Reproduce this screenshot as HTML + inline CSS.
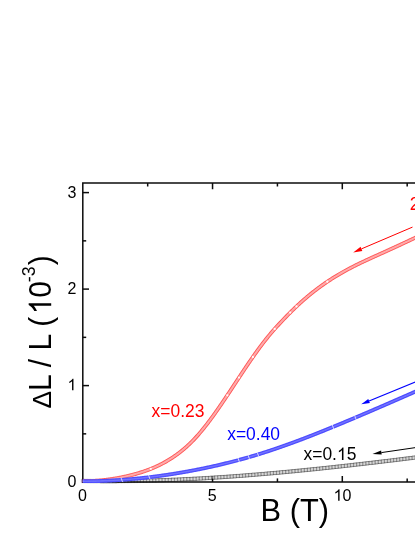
<!DOCTYPE html>
<html><head><meta charset="utf-8"><title>chart</title>
<style>html,body{margin:0;padding:0;background:#fff}body{width:415px;height:537px;overflow:hidden}svg{display:block}</style>
</head><body>
<svg width="415" height="537" viewBox="0 0 415 537" style="will-change:transform">
<rect width="415" height="537" fill="#fff"/>
<path d="M82.80 480.91L83.80 480.93L84.80 480.95L85.80 480.97L86.80 480.98L87.80 481.00L88.80 481.01L89.80 481.03L90.80 481.04L91.80 481.05L92.80 481.06L93.80 481.07L94.80 481.08L95.80 481.09L96.80 481.10L97.80 481.11L98.80 481.12L99.80 481.12L100.80 481.13L101.80 481.14L102.80 481.14L103.80 481.14L104.80 481.15L105.80 481.15L106.80 481.15L107.80 481.15L108.80 481.15L109.80 481.15L110.80 481.15L111.80 481.15L112.80 481.14L113.80 481.14L114.80 481.14L115.80 481.13L116.80 481.13L117.80 481.12L118.80 481.11L119.80 481.11L120.80 481.10L121.80 481.09L122.80 481.08L123.80 481.07L124.80 481.06L125.80 481.05L126.80 481.04L127.80 481.02L128.80 481.01L129.80 481.00L130.80 480.98L131.80 480.97L132.80 480.95L133.80 480.93L134.80 480.92L135.80 480.90L136.80 480.88L137.80 480.86L138.80 480.84L139.80 480.82L140.80 480.80L141.80 480.78L142.80 480.75L143.80 480.73L144.79 480.71L145.79 480.68L146.79 480.66L147.79 480.63L148.79 480.61L149.79 480.58L150.79 480.55L151.79 480.52L152.79 480.50L153.79 480.47L154.79 480.44L155.79 480.41L156.79 480.38L157.79 480.34L158.79 480.31L159.79 480.28L160.79 480.24L161.79 480.21L162.79 480.18L163.79 480.14L164.79 480.10L165.79 480.07L166.78 480.03L167.78 479.99L168.78 479.96L169.78 479.92L170.78 479.88L171.78 479.84L172.78 479.80L173.78 479.76L174.78 479.71L175.78 479.67L176.78 479.63L177.78 479.59L178.77 479.54L179.77 479.50L180.77 479.45L181.77 479.41L182.77 479.36L183.77 479.31L184.77 479.27L185.77 479.22L186.77 479.17L187.76 479.12L188.76 479.07L189.76 479.02L190.76 478.97L191.76 478.92L192.76 478.87L193.76 478.82L194.76 478.76L195.75 478.71L196.75 478.66L197.75 478.60L198.75 478.55L199.75 478.49L200.75 478.44L201.74 478.38L202.74 478.32L203.74 478.27L204.74 478.21L205.74 478.15L206.74 478.09L207.73 478.03L208.73 477.97L209.73 477.91L210.73 477.85L211.73 477.79L212.73 477.73L213.72 477.66L214.72 477.60L215.72 477.54L216.72 477.47L217.72 477.41L218.71 477.34L219.71 477.28L220.71 477.21L221.71 477.15L222.70 477.08L223.70 477.01L224.70 476.94L225.70 476.88L226.70 476.81L227.69 476.74L228.69 476.67L229.69 476.60L230.69 476.53L231.68 476.46L232.68 476.39L233.68 476.31L234.68 476.24L235.67 476.17L236.67 476.10L237.67 476.02L238.66 475.95L239.66 475.87L240.66 475.80L241.66 475.72L242.65 475.65L243.65 475.57L244.65 475.49L245.64 475.42L246.64 475.34L247.64 475.26L248.64 475.18L249.63 475.10L250.63 475.02L251.63 474.94L252.62 474.86L253.62 474.78L254.62 474.70L255.61 474.62L256.61 474.54L257.61 474.46L258.60 474.37L259.60 474.29L260.60 474.21L261.59 474.12L262.59 474.04L263.58 473.95L264.58 473.87L265.58 473.78L266.57 473.70L267.57 473.61L268.57 473.53L269.56 473.44L270.56 473.35L271.55 473.26L272.55 473.17L273.55 473.09L274.54 473.00L275.54 472.91L276.53 472.82L277.53 472.73L278.53 472.64L279.52 472.55L280.52 472.46L281.51 472.36L282.51 472.27L283.51 472.18L284.50 472.09L285.50 471.99L286.49 471.90L287.49 471.81L288.48 471.71L289.48 471.62L290.47 471.52L291.47 471.43L292.47 471.33L293.46 471.24L294.46 471.14L295.45 471.05L296.45 470.95L297.44 470.85L298.44 470.75L299.43 470.66L300.43 470.56L301.42 470.46L302.42 470.36L303.41 470.26L304.41 470.16L305.40 470.06L306.40 469.96L307.39 469.86L308.39 469.76L309.38 469.66L310.38 469.56L311.37 469.46L312.37 469.36L313.36 469.26L314.36 469.15L315.35 469.05L316.35 468.95L317.34 468.84L318.34 468.74L319.33 468.64L320.33 468.53L321.32 468.43L322.31 468.32L323.31 468.22L324.30 468.11L325.30 468.01L326.29 467.90L327.29 467.80L328.28 467.69L329.27 467.58L330.27 467.48L331.26 467.37L332.26 467.26L333.25 467.15L334.25 467.04L335.24 466.94L336.23 466.83L337.23 466.72L338.22 466.61L339.22 466.50L340.21 466.39L341.20 466.28L342.20 466.17L343.19 466.06L344.19 465.95L345.18 465.84L346.17 465.73L347.17 465.62L348.16 465.51L349.15 465.39L350.15 465.28L351.14 465.17L352.14 465.06L353.13 464.94L354.12 464.83L355.12 464.72L356.11 464.61L357.10 464.49L358.10 464.38L359.09 464.26L360.08 464.15L361.08 464.04L362.07 463.92L363.06 463.81L364.06 463.69L365.05 463.58L366.04 463.46L367.04 463.34L368.03 463.23L369.02 463.11L370.02 463.00L371.01 462.88L372.00 462.76L373.00 462.65L373.99 462.53L374.98 462.41L375.98 462.30L376.97 462.18L377.96 462.06L378.96 461.94L379.95 461.82L380.94 461.71L381.93 461.59L382.93 461.47L383.92 461.35L384.91 461.23L385.91 461.11L386.90 460.99L387.89 460.87L388.88 460.75L389.88 460.63L390.87 460.51L391.86 460.39L392.86 460.27L393.85 460.15L394.84 460.03L395.83 459.91L396.83 459.79L397.82 459.67L398.81 459.55L399.80 459.43L400.80 459.31L401.79 459.19L402.78 459.06L403.77 458.94L404.77 458.82L405.76 458.70L406.75 458.58L407.74 458.45L408.74 458.33L409.73 458.21L410.72 458.09L411.71 457.96L412.71 457.84L413.70 457.72L414.69 457.59L415.68 457.47L416.68 457.35L417.67 457.22L418.66 457.10L419.65 456.98L420.65 456.85L421.64 456.73" fill="none" stroke="#979797" stroke-width="4.0" stroke-linejoin="round"/>
<path d="M82.80 480.91L83.80 480.93L84.80 480.95L85.80 480.97L86.80 480.98L87.80 481.00L88.80 481.01L89.80 481.03L90.80 481.04L91.80 481.05L92.80 481.06L93.80 481.07L94.80 481.08L95.80 481.09L96.80 481.10L97.80 481.11L98.80 481.12L99.80 481.12L100.80 481.13L101.80 481.14L102.80 481.14L103.80 481.14L104.80 481.15L105.80 481.15L106.80 481.15L107.80 481.15L108.80 481.15L109.80 481.15L110.80 481.15L111.80 481.15L112.80 481.14L113.80 481.14L114.80 481.14L115.80 481.13L116.80 481.13L117.80 481.12L118.80 481.11L119.80 481.11L120.80 481.10L121.80 481.09L122.80 481.08L123.80 481.07L124.80 481.06L125.80 481.05L126.80 481.04L127.80 481.02L128.80 481.01L129.80 481.00L130.80 480.98L131.80 480.97L132.80 480.95L133.80 480.93L134.80 480.92L135.80 480.90L136.80 480.88L137.80 480.86L138.80 480.84L139.80 480.82L140.80 480.80L141.80 480.78L142.80 480.75L143.80 480.73L144.79 480.71L145.79 480.68L146.79 480.66L147.79 480.63L148.79 480.61L149.79 480.58L150.79 480.55L151.79 480.52L152.79 480.50L153.79 480.47L154.79 480.44L155.79 480.41L156.79 480.38L157.79 480.34L158.79 480.31L159.79 480.28L160.79 480.24L161.79 480.21L162.79 480.18L163.79 480.14L164.79 480.10L165.79 480.07L166.78 480.03L167.78 479.99L168.78 479.96L169.78 479.92L170.78 479.88L171.78 479.84L172.78 479.80L173.78 479.76L174.78 479.71L175.78 479.67L176.78 479.63L177.78 479.59L178.77 479.54L179.77 479.50L180.77 479.45L181.77 479.41L182.77 479.36L183.77 479.31L184.77 479.27L185.77 479.22L186.77 479.17L187.76 479.12L188.76 479.07L189.76 479.02L190.76 478.97L191.76 478.92L192.76 478.87L193.76 478.82L194.76 478.76L195.75 478.71L196.75 478.66L197.75 478.60L198.75 478.55L199.75 478.49L200.75 478.44L201.74 478.38L202.74 478.32L203.74 478.27L204.74 478.21L205.74 478.15L206.74 478.09L207.73 478.03L208.73 477.97L209.73 477.91L210.73 477.85L211.73 477.79L212.73 477.73L213.72 477.66L214.72 477.60L215.72 477.54L216.72 477.47L217.72 477.41L218.71 477.34L219.71 477.28L220.71 477.21L221.71 477.15L222.70 477.08L223.70 477.01L224.70 476.94L225.70 476.88L226.70 476.81L227.69 476.74L228.69 476.67L229.69 476.60L230.69 476.53L231.68 476.46L232.68 476.39L233.68 476.31L234.68 476.24L235.67 476.17L236.67 476.10L237.67 476.02L238.66 475.95L239.66 475.87L240.66 475.80L241.66 475.72L242.65 475.65L243.65 475.57L244.65 475.49L245.64 475.42L246.64 475.34L247.64 475.26L248.64 475.18L249.63 475.10L250.63 475.02L251.63 474.94L252.62 474.86L253.62 474.78L254.62 474.70L255.61 474.62L256.61 474.54L257.61 474.46L258.60 474.37L259.60 474.29L260.60 474.21L261.59 474.12L262.59 474.04L263.58 473.95L264.58 473.87L265.58 473.78L266.57 473.70L267.57 473.61L268.57 473.53L269.56 473.44L270.56 473.35L271.55 473.26L272.55 473.17L273.55 473.09L274.54 473.00L275.54 472.91L276.53 472.82L277.53 472.73L278.53 472.64L279.52 472.55L280.52 472.46L281.51 472.36L282.51 472.27L283.51 472.18L284.50 472.09L285.50 471.99L286.49 471.90L287.49 471.81L288.48 471.71L289.48 471.62L290.47 471.52L291.47 471.43L292.47 471.33L293.46 471.24L294.46 471.14L295.45 471.05L296.45 470.95L297.44 470.85L298.44 470.75L299.43 470.66L300.43 470.56L301.42 470.46L302.42 470.36L303.41 470.26L304.41 470.16L305.40 470.06L306.40 469.96L307.39 469.86L308.39 469.76L309.38 469.66L310.38 469.56L311.37 469.46L312.37 469.36L313.36 469.26L314.36 469.15L315.35 469.05L316.35 468.95L317.34 468.84L318.34 468.74L319.33 468.64L320.33 468.53L321.32 468.43L322.31 468.32L323.31 468.22L324.30 468.11L325.30 468.01L326.29 467.90L327.29 467.80L328.28 467.69L329.27 467.58L330.27 467.48L331.26 467.37L332.26 467.26L333.25 467.15L334.25 467.04L335.24 466.94L336.23 466.83L337.23 466.72L338.22 466.61L339.22 466.50L340.21 466.39L341.20 466.28L342.20 466.17L343.19 466.06L344.19 465.95L345.18 465.84L346.17 465.73L347.17 465.62L348.16 465.51L349.15 465.39L350.15 465.28L351.14 465.17L352.14 465.06L353.13 464.94L354.12 464.83L355.12 464.72L356.11 464.61L357.10 464.49L358.10 464.38L359.09 464.26L360.08 464.15L361.08 464.04L362.07 463.92L363.06 463.81L364.06 463.69L365.05 463.58L366.04 463.46L367.04 463.34L368.03 463.23L369.02 463.11L370.02 463.00L371.01 462.88L372.00 462.76L373.00 462.65L373.99 462.53L374.98 462.41L375.98 462.30L376.97 462.18L377.96 462.06L378.96 461.94L379.95 461.82L380.94 461.71L381.93 461.59L382.93 461.47L383.92 461.35L384.91 461.23L385.91 461.11L386.90 460.99L387.89 460.87L388.88 460.75L389.88 460.63L390.87 460.51L391.86 460.39L392.86 460.27L393.85 460.15L394.84 460.03L395.83 459.91L396.83 459.79L397.82 459.67L398.81 459.55L399.80 459.43L400.80 459.31L401.79 459.19L402.78 459.06L403.77 458.94L404.77 458.82L405.76 458.70L406.75 458.58L407.74 458.45L408.74 458.33L409.73 458.21L410.72 458.09L411.71 457.96L412.71 457.84L413.70 457.72L414.69 457.59L415.68 457.47L416.68 457.35L417.67 457.22L418.66 457.10L419.65 456.98L420.65 456.85L421.64 456.73" fill="none" stroke="#d6d6d6" stroke-width="2.5" stroke-linejoin="round"/>
<path d="M81.30 479.22h3.4v3.4h-3.4zM90.60 479.36h3.4v3.4h-3.4zM99.90 479.43h3.4v3.4h-3.4zM109.20 479.45h3.4v3.4h-3.4zM118.50 479.40h3.4v3.4h-3.4zM127.80 479.30h3.4v3.4h-3.4zM137.10 479.14h3.4v3.4h-3.4zM146.39 478.93h3.4v3.4h-3.4zM155.69 478.66h3.4v3.4h-3.4zM164.98 478.33h3.4v3.4h-3.4zM174.28 477.96h3.4v3.4h-3.4zM183.57 477.54h3.4v3.4h-3.4zM192.86 477.07h3.4v3.4h-3.4zM202.14 476.56h3.4v3.4h-3.4zM211.42 476.00h3.4v3.4h-3.4zM220.71 475.40h3.4v3.4h-3.4zM229.98 474.76h3.4v3.4h-3.4zM239.26 474.08h3.4v3.4h-3.4zM248.53 473.36h3.4v3.4h-3.4zM257.80 472.60h3.4v3.4h-3.4zM267.07 471.81h3.4v3.4h-3.4zM276.33 470.98h3.4v3.4h-3.4zM285.59 470.13h3.4v3.4h-3.4zM294.85 469.24h3.4v3.4h-3.4zM304.10 468.32h3.4v3.4h-3.4zM313.35 467.38h3.4v3.4h-3.4zM322.60 466.41h3.4v3.4h-3.4zM331.85 465.42h3.4v3.4h-3.4zM341.09 464.40h3.4v3.4h-3.4zM350.34 463.37h3.4v3.4h-3.4zM359.58 462.31h3.4v3.4h-3.4zM368.81 461.24h3.4v3.4h-3.4zM378.05 460.15h3.4v3.4h-3.4zM387.28 459.04h3.4v3.4h-3.4zM396.52 457.92h3.4v3.4h-3.4zM405.75 456.79h3.4v3.4h-3.4zM414.98 455.65h3.4v3.4h-3.4z" fill="none" stroke="#000" stroke-width="0.5" stroke-opacity="0.42"/>
<path d="M84.40 479.27h3.4v3.4h-3.4zM93.70 479.39h3.4v3.4h-3.4zM103.00 479.45h3.4v3.4h-3.4zM112.30 479.44h3.4v3.4h-3.4zM121.60 479.38h3.4v3.4h-3.4zM130.90 479.25h3.4v3.4h-3.4zM140.20 479.07h3.4v3.4h-3.4zM149.49 478.84h3.4v3.4h-3.4zM158.79 478.55h3.4v3.4h-3.4zM168.08 478.22h3.4v3.4h-3.4zM177.37 477.83h3.4v3.4h-3.4zM186.66 477.39h3.4v3.4h-3.4zM195.95 476.91h3.4v3.4h-3.4zM205.24 476.38h3.4v3.4h-3.4zM214.52 475.81h3.4v3.4h-3.4zM223.80 475.19h3.4v3.4h-3.4zM233.07 474.53h3.4v3.4h-3.4zM242.35 473.84h3.4v3.4h-3.4zM251.62 473.11h3.4v3.4h-3.4zM260.89 472.34h3.4v3.4h-3.4zM270.15 471.54h3.4v3.4h-3.4zM279.42 470.70h3.4v3.4h-3.4zM288.68 469.83h3.4v3.4h-3.4zM297.93 468.94h3.4v3.4h-3.4zM307.19 468.01h3.4v3.4h-3.4zM316.44 467.06h3.4v3.4h-3.4zM325.69 466.08h3.4v3.4h-3.4zM334.93 465.08h3.4v3.4h-3.4zM344.18 464.06h3.4v3.4h-3.4zM353.42 463.02h3.4v3.4h-3.4zM362.66 461.96h3.4v3.4h-3.4zM371.89 460.88h3.4v3.4h-3.4zM381.13 459.78h3.4v3.4h-3.4zM390.36 458.67h3.4v3.4h-3.4zM399.59 457.55h3.4v3.4h-3.4zM408.82 456.41h3.4v3.4h-3.4zM418.05 455.27h3.4v3.4h-3.4z" fill="none" stroke="#000" stroke-width="0.5" stroke-opacity="0.42"/>
<path d="M87.50 479.32h3.4v3.4h-3.4zM96.80 479.42h3.4v3.4h-3.4zM106.10 479.45h3.4v3.4h-3.4zM115.40 479.43h3.4v3.4h-3.4zM124.70 479.34h3.4v3.4h-3.4zM134.00 479.20h3.4v3.4h-3.4zM143.29 479.00h3.4v3.4h-3.4zM152.59 478.75h3.4v3.4h-3.4zM161.89 478.45h3.4v3.4h-3.4zM171.18 478.09h3.4v3.4h-3.4zM180.47 477.69h3.4v3.4h-3.4zM189.76 477.24h3.4v3.4h-3.4zM199.05 476.74h3.4v3.4h-3.4zM208.33 476.19h3.4v3.4h-3.4zM217.61 475.61h3.4v3.4h-3.4zM226.89 474.98h3.4v3.4h-3.4zM236.17 474.31h3.4v3.4h-3.4zM245.44 473.60h3.4v3.4h-3.4zM254.71 472.86h3.4v3.4h-3.4zM263.98 472.08h3.4v3.4h-3.4zM273.24 471.26h3.4v3.4h-3.4zM282.50 470.42h3.4v3.4h-3.4zM291.76 469.54h3.4v3.4h-3.4zM301.02 468.63h3.4v3.4h-3.4zM310.27 467.70h3.4v3.4h-3.4zM319.52 466.74h3.4v3.4h-3.4zM328.77 465.75h3.4v3.4h-3.4zM338.01 464.75h3.4v3.4h-3.4zM347.26 463.72h3.4v3.4h-3.4zM356.50 462.67h3.4v3.4h-3.4zM365.74 461.60h3.4v3.4h-3.4zM374.97 460.51h3.4v3.4h-3.4zM384.21 459.41h3.4v3.4h-3.4zM393.44 458.30h3.4v3.4h-3.4zM402.67 457.17h3.4v3.4h-3.4zM411.90 456.03h3.4v3.4h-3.4z" fill="none" stroke="#000" stroke-width="0.5" stroke-opacity="0.42"/>
<g stroke="#0c0c0c" stroke-width="1.5" fill="none" stroke-linecap="butt">
<path d="M82.8 482.8V183.1M82.05 183.1H415"/>
<path d="M82.05 482H415" stroke-width="1.6"/>
<path d="M82.8 482.10h6.2"/>
<path d="M82.8 385.60h6.2"/>
<path d="M82.8 289.10h6.2"/>
<path d="M82.8 192.60h6.2"/>
<path d="M82.8 433.85h3.4"/>
<path d="M82.8 337.35h3.4"/>
<path d="M82.8 240.85h3.4"/>
<path d="M212.55 482v-3.4M212.55 183.1v6.2"/>
<path d="M212.55 478.6v-2.6" stroke-opacity="0.45"/>
<path d="M342.30 482v-6M342.30 183.1v6.2"/>
<path d="M147.68 183.1v3.4"/>
<path d="M277.43 183.1v3.4"/>
<path d="M407.18 183.1v3.4"/>
<path d="M277.43 482v-3.6"/>
<path d="M407.18 482v-3.6"/>
</g>
<path d="M82.80 480.97L83.80 480.99L84.80 481.00L85.80 481.01L86.80 481.01L87.80 481.00L88.80 480.99L89.80 480.97L90.80 480.95L91.80 480.92L92.80 480.88L93.80 480.84L94.80 480.79L95.79 480.73L96.79 480.67L97.79 480.60L98.79 480.53L99.78 480.45L100.78 480.36L101.78 480.27L102.77 480.18L103.77 480.07L104.76 479.97L105.75 479.85L106.75 479.73L107.74 479.61L108.73 479.48L109.72 479.34L110.71 479.20L111.70 479.06L112.69 478.91L113.68 478.75L114.66 478.59L115.65 478.42L116.64 478.25L117.62 478.07L118.60 477.89L119.59 477.70L120.57 477.51L121.55 477.32L122.53 477.12L123.51 476.91L124.48 476.70L125.46 476.49L126.44 476.27L127.41 476.04L128.38 475.81L129.36 475.58L130.33 475.35L131.30 475.10L132.27 474.86L133.24 474.60L134.20 474.35L135.17 474.08L136.13 473.82L137.09 473.54L138.05 473.26L139.01 472.98L139.97 472.69L140.92 472.39L141.87 472.08L142.82 471.77L143.77 471.46L144.72 471.13L145.66 470.80L146.60 470.47L147.54 470.12L148.48 469.77L149.41 469.42L150.35 469.05L151.27 468.68L152.20 468.30L153.12 467.91L154.04 467.52L154.96 467.12L155.87 466.71L156.78 466.30L157.69 465.87L158.59 465.44L159.49 465.01L160.38 464.56L161.27 464.11L162.16 463.65L163.05 463.18L163.93 462.71L164.80 462.22L165.68 461.73L166.54 461.24L167.41 460.73L168.27 460.22L169.12 459.70L169.97 459.18L170.82 458.65L171.66 458.11L172.50 457.56L173.33 457.00L174.16 456.44L174.98 455.88L175.80 455.30L176.61 454.72L177.42 454.13L178.22 453.54L179.02 452.93L179.82 452.32L180.60 451.71L181.39 451.09L182.16 450.46L182.94 449.82L183.70 449.18L184.46 448.53L185.22 447.88L185.97 447.22L186.72 446.55L187.46 445.88L188.19 445.20L188.92 444.52L189.65 443.83L190.36 443.13L191.08 442.43L191.79 441.72L192.49 441.01L193.19 440.30L193.88 439.58L194.57 438.85L195.25 438.12L195.93 437.38L196.60 436.64L197.27 435.90L197.93 435.15L198.59 434.40L199.24 433.64L199.89 432.88L200.54 432.12L201.18 431.35L201.82 430.58L202.46 429.81L203.09 429.04L203.72 428.26L204.34 427.48L204.96 426.69L205.58 425.91L206.20 425.12L206.81 424.33L207.42 423.54L208.03 422.74L208.64 421.95L209.24 421.15L209.84 420.35L210.43 419.55L211.03 418.74L211.62 417.94L212.21 417.13L212.80 416.32L213.39 415.51L213.97 414.70L214.56 413.89L215.14 413.08L215.72 412.26L216.29 411.44L216.87 410.63L217.44 409.81L218.01 408.99L218.58 408.17L219.15 407.34L219.72 406.52L220.29 405.70L220.85 404.87L221.42 404.05L221.98 403.22L222.54 402.39L223.10 401.56L223.66 400.74L224.22 399.91L224.78 399.08L225.34 398.25L225.90 397.42L226.45 396.58L227.01 395.75L227.56 394.92L228.11 394.09L228.67 393.26L229.22 392.42L229.77 391.59L230.32 390.75L230.88 389.92L231.43 389.09L231.98 388.25L232.53 387.42L233.08 386.58L233.63 385.75L234.18 384.91L234.73 384.07L235.28 383.24L235.83 382.40L236.38 381.57L236.93 380.73L237.48 379.90L238.03 379.06L238.58 378.23L239.13 377.39L239.68 376.56L240.23 375.73L240.78 374.89L241.33 374.06L241.89 373.22L242.44 372.39L242.99 371.56L243.55 370.73L244.10 369.89L244.66 369.06L245.22 368.23L245.77 367.40L246.33 366.57L246.89 365.74L247.45 364.91L248.01 364.09L248.57 363.26L249.14 362.43L249.70 361.61L250.26 360.78L250.83 359.96L251.40 359.13L251.97 358.31L252.54 357.49L253.11 356.67L253.69 355.85L254.26 355.03L254.84 354.22L255.42 353.40L256.00 352.59L256.58 351.78L257.16 350.96L257.75 350.15L258.34 349.35L258.93 348.54L259.52 347.73L260.12 346.93L260.72 346.13L261.31 345.33L261.92 344.53L262.52 343.73L263.13 342.94L263.74 342.15L264.35 341.36L264.97 340.57L265.59 339.78L266.21 339.00L266.83 338.22L267.46 337.44L268.09 336.66L268.72 335.89L269.36 335.12L270.00 334.35L270.65 333.59L271.30 332.83L271.95 332.07L272.60 331.31L273.26 330.56L273.92 329.81L274.58 329.06L275.25 328.31L275.92 327.57L276.59 326.83L277.26 326.09L277.94 325.35L278.61 324.61L279.29 323.88L279.98 323.15L280.66 322.42L281.34 321.69L282.03 320.96L282.72 320.24L283.41 319.51L284.10 318.79L284.79 318.07L285.49 317.35L286.18 316.63L286.88 315.91L287.58 315.20L288.28 314.49L288.98 313.78L289.69 313.07L290.40 312.36L291.11 311.66L291.82 310.95L292.53 310.25L293.25 309.55L293.96 308.86L294.68 308.16L295.41 307.47L296.13 306.78L296.86 306.10L297.59 305.41L298.32 304.73L299.05 304.05L299.79 303.38L300.53 302.70L301.27 302.03L302.02 301.37L302.76 300.70L303.51 300.04L304.27 299.38L305.02 298.73L305.78 298.07L306.54 297.43L307.31 296.78L308.07 296.14L308.84 295.50L309.61 294.86L310.39 294.23L311.17 293.60L311.95 292.98L312.73 292.35L313.51 291.74L314.30 291.12L315.09 290.51L315.89 289.90L316.68 289.29L317.48 288.69L318.28 288.09L319.09 287.50L319.89 286.91L320.70 286.32L321.51 285.74L322.33 285.15L323.14 284.58L323.96 284.00L324.78 283.43L325.61 282.87L326.43 282.30L327.26 281.74L328.09 281.19L328.93 280.64L329.76 280.09L330.60 279.54L331.44 279.00L332.29 278.46L333.13 277.93L333.98 277.40L334.83 276.87L335.68 276.35L336.54 275.83L337.39 275.31L338.25 274.80L339.11 274.29L339.98 273.79L340.84 273.29L341.71 272.79L342.58 272.29L343.45 271.80L344.32 271.31L345.20 270.83L346.07 270.35L346.95 269.87L347.83 269.40L348.72 268.93L349.60 268.46L350.49 268.00L351.37 267.54L352.26 267.08L353.15 266.62L354.04 266.17L354.94 265.72L355.83 265.27L356.73 264.83L357.62 264.39L358.52 263.95L359.42 263.51L360.32 263.07L361.22 262.64L362.13 262.21L363.03 261.78L363.93 261.36L364.84 260.93L365.74 260.51L366.65 260.09L367.56 259.66L368.47 259.25L369.38 258.83L370.29 258.41L371.19 258.00L372.10 257.58L373.02 257.17L373.93 256.76L374.84 256.35L375.75 255.93L376.66 255.52L377.57 255.11L378.49 254.70L379.40 254.29L380.31 253.88L381.22 253.47L382.13 253.06L383.05 252.65L383.96 252.24L384.87 251.83L385.78 251.42L386.69 251.01L387.60 250.59L388.51 250.18L389.42 249.77L390.33 249.35L391.24 248.94L392.15 248.52L393.06 248.10L393.97 247.68L394.88 247.27L395.79 246.85L396.69 246.43L397.60 246.01L398.51 245.59L399.42 245.17L400.32 244.75L401.23 244.33L402.14 243.90L403.04 243.48L403.95 243.06L404.85 242.63L405.76 242.21L406.67 241.79L407.57 241.36L408.48 240.94L409.38 240.51L410.29 240.09L411.19 239.66L412.10 239.24L413.00 238.81L413.91 238.38L414.81 237.96L415.71 237.53L416.62 237.10L417.52 236.67L418.43 236.25L419.33 235.82L420.23 235.39L421.14 234.96" fill="none" stroke="#ff7272" stroke-width="3.8" stroke-linejoin="round"/>
<path d="M82.80 480.97L83.80 480.99L84.80 481.00L85.80 481.01L86.80 481.01L87.80 481.00L88.80 480.99L89.80 480.97L90.80 480.95L91.80 480.92L92.80 480.88L93.80 480.84L94.80 480.79L95.79 480.73L96.79 480.67L97.79 480.60L98.79 480.53L99.78 480.45L100.78 480.36L101.78 480.27L102.77 480.18L103.77 480.07L104.76 479.97L105.75 479.85L106.75 479.73L107.74 479.61L108.73 479.48L109.72 479.34L110.71 479.20L111.70 479.06L112.69 478.91L113.68 478.75L114.66 478.59L115.65 478.42L116.64 478.25L117.62 478.07L118.60 477.89L119.59 477.70L120.57 477.51L121.55 477.32L122.53 477.12L123.51 476.91L124.48 476.70L125.46 476.49L126.44 476.27L127.41 476.04L128.38 475.81L129.36 475.58L130.33 475.35L131.30 475.10L132.27 474.86L133.24 474.60L134.20 474.35L135.17 474.08L136.13 473.82L137.09 473.54L138.05 473.26L139.01 472.98L139.97 472.69L140.92 472.39L141.87 472.08L142.82 471.77L143.77 471.46L144.72 471.13L145.66 470.80L146.60 470.47L147.54 470.12L148.48 469.77L149.41 469.42L150.35 469.05L151.27 468.68L152.20 468.30L153.12 467.91L154.04 467.52L154.96 467.12L155.87 466.71L156.78 466.30L157.69 465.87L158.59 465.44L159.49 465.01L160.38 464.56L161.27 464.11L162.16 463.65L163.05 463.18L163.93 462.71L164.80 462.22L165.68 461.73L166.54 461.24L167.41 460.73L168.27 460.22L169.12 459.70L169.97 459.18L170.82 458.65L171.66 458.11L172.50 457.56L173.33 457.00L174.16 456.44L174.98 455.88L175.80 455.30L176.61 454.72L177.42 454.13L178.22 453.54L179.02 452.93L179.82 452.32L180.60 451.71L181.39 451.09L182.16 450.46L182.94 449.82L183.70 449.18L184.46 448.53L185.22 447.88L185.97 447.22L186.72 446.55L187.46 445.88L188.19 445.20L188.92 444.52L189.65 443.83L190.36 443.13L191.08 442.43L191.79 441.72L192.49 441.01L193.19 440.30L193.88 439.58L194.57 438.85L195.25 438.12L195.93 437.38L196.60 436.64L197.27 435.90L197.93 435.15L198.59 434.40L199.24 433.64L199.89 432.88L200.54 432.12L201.18 431.35L201.82 430.58L202.46 429.81L203.09 429.04L203.72 428.26L204.34 427.48L204.96 426.69L205.58 425.91L206.20 425.12L206.81 424.33L207.42 423.54L208.03 422.74L208.64 421.95L209.24 421.15L209.84 420.35L210.43 419.55L211.03 418.74L211.62 417.94L212.21 417.13L212.80 416.32L213.39 415.51L213.97 414.70L214.56 413.89L215.14 413.08L215.72 412.26L216.29 411.44L216.87 410.63L217.44 409.81L218.01 408.99L218.58 408.17L219.15 407.34L219.72 406.52L220.29 405.70L220.85 404.87L221.42 404.05L221.98 403.22L222.54 402.39L223.10 401.56L223.66 400.74L224.22 399.91L224.78 399.08L225.34 398.25L225.90 397.42L226.45 396.58L227.01 395.75L227.56 394.92L228.11 394.09L228.67 393.26L229.22 392.42L229.77 391.59L230.32 390.75L230.88 389.92L231.43 389.09L231.98 388.25L232.53 387.42L233.08 386.58L233.63 385.75L234.18 384.91L234.73 384.07L235.28 383.24L235.83 382.40L236.38 381.57L236.93 380.73L237.48 379.90L238.03 379.06L238.58 378.23L239.13 377.39L239.68 376.56L240.23 375.73L240.78 374.89L241.33 374.06L241.89 373.22L242.44 372.39L242.99 371.56L243.55 370.73L244.10 369.89L244.66 369.06L245.22 368.23L245.77 367.40L246.33 366.57L246.89 365.74L247.45 364.91L248.01 364.09L248.57 363.26L249.14 362.43L249.70 361.61L250.26 360.78L250.83 359.96L251.40 359.13L251.97 358.31L252.54 357.49L253.11 356.67L253.69 355.85L254.26 355.03L254.84 354.22L255.42 353.40L256.00 352.59L256.58 351.78L257.16 350.96L257.75 350.15L258.34 349.35L258.93 348.54L259.52 347.73L260.12 346.93L260.72 346.13L261.31 345.33L261.92 344.53L262.52 343.73L263.13 342.94L263.74 342.15L264.35 341.36L264.97 340.57L265.59 339.78L266.21 339.00L266.83 338.22L267.46 337.44L268.09 336.66L268.72 335.89L269.36 335.12L270.00 334.35L270.65 333.59L271.30 332.83L271.95 332.07L272.60 331.31L273.26 330.56L273.92 329.81L274.58 329.06L275.25 328.31L275.92 327.57L276.59 326.83L277.26 326.09L277.94 325.35L278.61 324.61L279.29 323.88L279.98 323.15L280.66 322.42L281.34 321.69L282.03 320.96L282.72 320.24L283.41 319.51L284.10 318.79L284.79 318.07L285.49 317.35L286.18 316.63L286.88 315.91L287.58 315.20L288.28 314.49L288.98 313.78L289.69 313.07L290.40 312.36L291.11 311.66L291.82 310.95L292.53 310.25L293.25 309.55L293.96 308.86L294.68 308.16L295.41 307.47L296.13 306.78L296.86 306.10L297.59 305.41L298.32 304.73L299.05 304.05L299.79 303.38L300.53 302.70L301.27 302.03L302.02 301.37L302.76 300.70L303.51 300.04L304.27 299.38L305.02 298.73L305.78 298.07L306.54 297.43L307.31 296.78L308.07 296.14L308.84 295.50L309.61 294.86L310.39 294.23L311.17 293.60L311.95 292.98L312.73 292.35L313.51 291.74L314.30 291.12L315.09 290.51L315.89 289.90L316.68 289.29L317.48 288.69L318.28 288.09L319.09 287.50L319.89 286.91L320.70 286.32L321.51 285.74L322.33 285.15L323.14 284.58L323.96 284.00L324.78 283.43L325.61 282.87L326.43 282.30L327.26 281.74L328.09 281.19L328.93 280.64L329.76 280.09L330.60 279.54L331.44 279.00L332.29 278.46L333.13 277.93L333.98 277.40L334.83 276.87L335.68 276.35L336.54 275.83L337.39 275.31L338.25 274.80L339.11 274.29L339.98 273.79L340.84 273.29L341.71 272.79L342.58 272.29L343.45 271.80L344.32 271.31L345.20 270.83L346.07 270.35L346.95 269.87L347.83 269.40L348.72 268.93L349.60 268.46L350.49 268.00L351.37 267.54L352.26 267.08L353.15 266.62L354.04 266.17L354.94 265.72L355.83 265.27L356.73 264.83L357.62 264.39L358.52 263.95L359.42 263.51L360.32 263.07L361.22 262.64L362.13 262.21L363.03 261.78L363.93 261.36L364.84 260.93L365.74 260.51L366.65 260.09L367.56 259.66L368.47 259.25L369.38 258.83L370.29 258.41L371.19 258.00L372.10 257.58L373.02 257.17L373.93 256.76L374.84 256.35L375.75 255.93L376.66 255.52L377.57 255.11L378.49 254.70L379.40 254.29L380.31 253.88L381.22 253.47L382.13 253.06L383.05 252.65L383.96 252.24L384.87 251.83L385.78 251.42L386.69 251.01L387.60 250.59L388.51 250.18L389.42 249.77L390.33 249.35L391.24 248.94L392.15 248.52L393.06 248.10L393.97 247.68L394.88 247.27L395.79 246.85L396.69 246.43L397.60 246.01L398.51 245.59L399.42 245.17L400.32 244.75L401.23 244.33L402.14 243.90L403.04 243.48L403.95 243.06L404.85 242.63L405.76 242.21L406.67 241.79L407.57 241.36L408.48 240.94L409.38 240.51L410.29 240.09L411.19 239.66L412.10 239.24L413.00 238.81L413.91 238.38L414.81 237.96L415.71 237.53L416.62 237.10L417.52 236.67L418.43 236.25L419.33 235.82L420.23 235.39L421.14 234.96" fill="none" stroke="#ffd0d0" stroke-width="2.15" stroke-linejoin="round"/>
<path d="M81.45 480.97a1.55 1.55 0 1 0 3.1 0a1.55 1.55 0 1 0 -3.1 0M86.95 480.99a1.55 1.55 0 1 0 3.1 0a1.55 1.55 0 1 0 -3.1 0M92.45 480.83a1.55 1.55 0 1 0 3.1 0a1.55 1.55 0 1 0 -3.1 0M97.94 480.47a1.55 1.55 0 1 0 3.1 0a1.55 1.55 0 1 0 -3.1 0M103.41 479.94a1.55 1.55 0 1 0 3.1 0a1.55 1.55 0 1 0 -3.1 0M108.86 479.25a1.55 1.55 0 1 0 3.1 0a1.55 1.55 0 1 0 -3.1 0M114.30 478.39a1.55 1.55 0 1 0 3.1 0a1.55 1.55 0 1 0 -3.1 0M119.70 477.38a1.55 1.55 0 1 0 3.1 0a1.55 1.55 0 1 0 -3.1 0M125.08 476.22a1.55 1.55 0 1 0 3.1 0a1.55 1.55 0 1 0 -3.1 0M130.43 474.93a1.55 1.55 0 1 0 3.1 0a1.55 1.55 0 1 0 -3.1 0M135.73 473.49a1.55 1.55 0 1 0 3.1 0a1.55 1.55 0 1 0 -3.1 0M140.99 471.87a1.55 1.55 0 1 0 3.1 0a1.55 1.55 0 1 0 -3.1 0M146.18 470.05a1.55 1.55 0 1 0 3.1 0a1.55 1.55 0 1 0 -3.1 0M151.30 468.03a1.55 1.55 0 1 0 3.1 0a1.55 1.55 0 1 0 -3.1 0M156.32 465.79a1.55 1.55 0 1 0 3.1 0a1.55 1.55 0 1 0 -3.1 0M161.23 463.32a1.55 1.55 0 1 0 3.1 0a1.55 1.55 0 1 0 -3.1 0M166.03 460.63a1.55 1.55 0 1 0 3.1 0a1.55 1.55 0 1 0 -3.1 0M170.70 457.72a1.55 1.55 0 1 0 3.1 0a1.55 1.55 0 1 0 -3.1 0M175.22 454.60a1.55 1.55 0 1 0 3.1 0a1.55 1.55 0 1 0 -3.1 0M179.60 451.27a1.55 1.55 0 1 0 3.1 0a1.55 1.55 0 1 0 -3.1 0M183.82 447.75a1.55 1.55 0 1 0 3.1 0a1.55 1.55 0 1 0 -3.1 0M187.88 444.03a1.55 1.55 0 1 0 3.1 0a1.55 1.55 0 1 0 -3.1 0M191.78 440.15a1.55 1.55 0 1 0 3.1 0a1.55 1.55 0 1 0 -3.1 0M195.52 436.12a1.55 1.55 0 1 0 3.1 0a1.55 1.55 0 1 0 -3.1 0M199.12 431.97a1.55 1.55 0 1 0 3.1 0a1.55 1.55 0 1 0 -3.1 0M202.61 427.71a1.55 1.55 0 1 0 3.1 0a1.55 1.55 0 1 0 -3.1 0M205.99 423.38a1.55 1.55 0 1 0 3.1 0a1.55 1.55 0 1 0 -3.1 0M209.30 418.99a1.55 1.55 0 1 0 3.1 0a1.55 1.55 0 1 0 -3.1 0M212.54 414.54a1.55 1.55 0 1 0 3.1 0a1.55 1.55 0 1 0 -3.1 0M215.72 410.05a1.55 1.55 0 1 0 3.1 0a1.55 1.55 0 1 0 -3.1 0M218.85 405.53a1.55 1.55 0 1 0 3.1 0a1.55 1.55 0 1 0 -3.1 0M221.95 400.99a1.55 1.55 0 1 0 3.1 0a1.55 1.55 0 1 0 -3.1 0M225.01 396.42a1.55 1.55 0 1 0 3.1 0a1.55 1.55 0 1 0 -3.1 0M228.06 391.84a1.55 1.55 0 1 0 3.1 0a1.55 1.55 0 1 0 -3.1 0M231.09 387.25a1.55 1.55 0 1 0 3.1 0a1.55 1.55 0 1 0 -3.1 0M234.11 382.65a1.55 1.55 0 1 0 3.1 0a1.55 1.55 0 1 0 -3.1 0M237.14 378.06a1.55 1.55 0 1 0 3.1 0a1.55 1.55 0 1 0 -3.1 0M240.17 373.47a1.55 1.55 0 1 0 3.1 0a1.55 1.55 0 1 0 -3.1 0M243.22 368.90a1.55 1.55 0 1 0 3.1 0a1.55 1.55 0 1 0 -3.1 0M246.29 364.33a1.55 1.55 0 1 0 3.1 0a1.55 1.55 0 1 0 -3.1 0M249.40 359.79a1.55 1.55 0 1 0 3.1 0a1.55 1.55 0 1 0 -3.1 0M252.54 355.28a1.55 1.55 0 1 0 3.1 0a1.55 1.55 0 1 0 -3.1 0M255.73 350.80a1.55 1.55 0 1 0 3.1 0a1.55 1.55 0 1 0 -3.1 0M258.99 346.37a1.55 1.55 0 1 0 3.1 0a1.55 1.55 0 1 0 -3.1 0M262.31 341.99a1.55 1.55 0 1 0 3.1 0a1.55 1.55 0 1 0 -3.1 0M265.72 337.67a1.55 1.55 0 1 0 3.1 0a1.55 1.55 0 1 0 -3.1 0M269.23 333.44a1.55 1.55 0 1 0 3.1 0a1.55 1.55 0 1 0 -3.1 0M272.83 329.28a1.55 1.55 0 1 0 3.1 0a1.55 1.55 0 1 0 -3.1 0M276.52 325.20a1.55 1.55 0 1 0 3.1 0a1.55 1.55 0 1 0 -3.1 0M280.27 321.18a1.55 1.55 0 1 0 3.1 0a1.55 1.55 0 1 0 -3.1 0M284.07 317.20a1.55 1.55 0 1 0 3.1 0a1.55 1.55 0 1 0 -3.1 0M287.93 313.28a1.55 1.55 0 1 0 3.1 0a1.55 1.55 0 1 0 -3.1 0M291.84 309.41a1.55 1.55 0 1 0 3.1 0a1.55 1.55 0 1 0 -3.1 0M295.82 305.62a1.55 1.55 0 1 0 3.1 0a1.55 1.55 0 1 0 -3.1 0M299.87 301.90a1.55 1.55 0 1 0 3.1 0a1.55 1.55 0 1 0 -3.1 0M304.00 298.27a1.55 1.55 0 1 0 3.1 0a1.55 1.55 0 1 0 -3.1 0M308.22 294.74a1.55 1.55 0 1 0 3.1 0a1.55 1.55 0 1 0 -3.1 0M312.52 291.30a1.55 1.55 0 1 0 3.1 0a1.55 1.55 0 1 0 -3.1 0M316.89 287.97a1.55 1.55 0 1 0 3.1 0a1.55 1.55 0 1 0 -3.1 0M321.35 284.75a1.55 1.55 0 1 0 3.1 0a1.55 1.55 0 1 0 -3.1 0M325.88 281.63a1.55 1.55 0 1 0 3.1 0a1.55 1.55 0 1 0 -3.1 0M330.48 278.62a1.55 1.55 0 1 0 3.1 0a1.55 1.55 0 1 0 -3.1 0M335.16 275.73a1.55 1.55 0 1 0 3.1 0a1.55 1.55 0 1 0 -3.1 0M339.90 272.94a1.55 1.55 0 1 0 3.1 0a1.55 1.55 0 1 0 -3.1 0M344.70 270.25a1.55 1.55 0 1 0 3.1 0a1.55 1.55 0 1 0 -3.1 0M349.56 267.67a1.55 1.55 0 1 0 3.1 0a1.55 1.55 0 1 0 -3.1 0M354.46 265.18a1.55 1.55 0 1 0 3.1 0a1.55 1.55 0 1 0 -3.1 0M359.40 262.77a1.55 1.55 0 1 0 3.1 0a1.55 1.55 0 1 0 -3.1 0M364.38 260.42a1.55 1.55 0 1 0 3.1 0a1.55 1.55 0 1 0 -3.1 0M369.37 258.12a1.55 1.55 0 1 0 3.1 0a1.55 1.55 0 1 0 -3.1 0M374.38 255.85a1.55 1.55 0 1 0 3.1 0a1.55 1.55 0 1 0 -3.1 0M379.40 253.60a1.55 1.55 0 1 0 3.1 0a1.55 1.55 0 1 0 -3.1 0M384.41 251.34a1.55 1.55 0 1 0 3.1 0a1.55 1.55 0 1 0 -3.1 0M389.42 249.06a1.55 1.55 0 1 0 3.1 0a1.55 1.55 0 1 0 -3.1 0M394.42 246.76a1.55 1.55 0 1 0 3.1 0a1.55 1.55 0 1 0 -3.1 0M399.41 244.45a1.55 1.55 0 1 0 3.1 0a1.55 1.55 0 1 0 -3.1 0M404.39 242.13a1.55 1.55 0 1 0 3.1 0a1.55 1.55 0 1 0 -3.1 0M409.37 239.79a1.55 1.55 0 1 0 3.1 0a1.55 1.55 0 1 0 -3.1 0M414.34 237.44a1.55 1.55 0 1 0 3.1 0a1.55 1.55 0 1 0 -3.1 0M419.32 235.09a1.55 1.55 0 1 0 3.1 0a1.55 1.55 0 1 0 -3.1 0" fill="none" stroke="#ff0000" stroke-width="0.3" stroke-opacity="0.35"/>
<path d="M82.55 480.99a1.55 1.55 0 1 0 3.1 0a1.55 1.55 0 1 0 -3.1 0M88.05 480.98a1.55 1.55 0 1 0 3.1 0a1.55 1.55 0 1 0 -3.1 0M93.55 480.77a1.55 1.55 0 1 0 3.1 0a1.55 1.55 0 1 0 -3.1 0M99.03 480.38a1.55 1.55 0 1 0 3.1 0a1.55 1.55 0 1 0 -3.1 0M104.50 479.82a1.55 1.55 0 1 0 3.1 0a1.55 1.55 0 1 0 -3.1 0M109.95 479.09a1.55 1.55 0 1 0 3.1 0a1.55 1.55 0 1 0 -3.1 0M115.38 478.20a1.55 1.55 0 1 0 3.1 0a1.55 1.55 0 1 0 -3.1 0M120.78 477.16a1.55 1.55 0 1 0 3.1 0a1.55 1.55 0 1 0 -3.1 0M126.15 475.98a1.55 1.55 0 1 0 3.1 0a1.55 1.55 0 1 0 -3.1 0M131.49 474.66a1.55 1.55 0 1 0 3.1 0a1.55 1.55 0 1 0 -3.1 0M136.79 473.18a1.55 1.55 0 1 0 3.1 0a1.55 1.55 0 1 0 -3.1 0M142.03 471.52a1.55 1.55 0 1 0 3.1 0a1.55 1.55 0 1 0 -3.1 0M147.21 469.67a1.55 1.55 0 1 0 3.1 0a1.55 1.55 0 1 0 -3.1 0M152.31 467.60a1.55 1.55 0 1 0 3.1 0a1.55 1.55 0 1 0 -3.1 0M157.31 465.31a1.55 1.55 0 1 0 3.1 0a1.55 1.55 0 1 0 -3.1 0M162.20 462.80a1.55 1.55 0 1 0 3.1 0a1.55 1.55 0 1 0 -3.1 0M166.97 460.07a1.55 1.55 0 1 0 3.1 0a1.55 1.55 0 1 0 -3.1 0M171.61 457.12a1.55 1.55 0 1 0 3.1 0a1.55 1.55 0 1 0 -3.1 0M176.11 453.95a1.55 1.55 0 1 0 3.1 0a1.55 1.55 0 1 0 -3.1 0M180.46 450.58a1.55 1.55 0 1 0 3.1 0a1.55 1.55 0 1 0 -3.1 0M184.65 447.02a1.55 1.55 0 1 0 3.1 0a1.55 1.55 0 1 0 -3.1 0M188.67 443.27a1.55 1.55 0 1 0 3.1 0a1.55 1.55 0 1 0 -3.1 0M192.54 439.36a1.55 1.55 0 1 0 3.1 0a1.55 1.55 0 1 0 -3.1 0M196.25 435.30a1.55 1.55 0 1 0 3.1 0a1.55 1.55 0 1 0 -3.1 0M199.82 431.12a1.55 1.55 0 1 0 3.1 0a1.55 1.55 0 1 0 -3.1 0M203.29 426.85a1.55 1.55 0 1 0 3.1 0a1.55 1.55 0 1 0 -3.1 0M206.66 422.51a1.55 1.55 0 1 0 3.1 0a1.55 1.55 0 1 0 -3.1 0M209.95 418.10a1.55 1.55 0 1 0 3.1 0a1.55 1.55 0 1 0 -3.1 0M213.18 413.65a1.55 1.55 0 1 0 3.1 0a1.55 1.55 0 1 0 -3.1 0M216.35 409.15a1.55 1.55 0 1 0 3.1 0a1.55 1.55 0 1 0 -3.1 0M219.47 404.62a1.55 1.55 0 1 0 3.1 0a1.55 1.55 0 1 0 -3.1 0M222.56 400.07a1.55 1.55 0 1 0 3.1 0a1.55 1.55 0 1 0 -3.1 0M225.62 395.50a1.55 1.55 0 1 0 3.1 0a1.55 1.55 0 1 0 -3.1 0M228.66 390.92a1.55 1.55 0 1 0 3.1 0a1.55 1.55 0 1 0 -3.1 0M231.69 386.33a1.55 1.55 0 1 0 3.1 0a1.55 1.55 0 1 0 -3.1 0M234.72 381.74a1.55 1.55 0 1 0 3.1 0a1.55 1.55 0 1 0 -3.1 0M237.74 377.14a1.55 1.55 0 1 0 3.1 0a1.55 1.55 0 1 0 -3.1 0M240.78 372.56a1.55 1.55 0 1 0 3.1 0a1.55 1.55 0 1 0 -3.1 0M243.83 367.98a1.55 1.55 0 1 0 3.1 0a1.55 1.55 0 1 0 -3.1 0M246.91 363.42a1.55 1.55 0 1 0 3.1 0a1.55 1.55 0 1 0 -3.1 0M250.02 358.89a1.55 1.55 0 1 0 3.1 0a1.55 1.55 0 1 0 -3.1 0M253.17 354.38a1.55 1.55 0 1 0 3.1 0a1.55 1.55 0 1 0 -3.1 0M256.38 349.91a1.55 1.55 0 1 0 3.1 0a1.55 1.55 0 1 0 -3.1 0M259.64 345.49a1.55 1.55 0 1 0 3.1 0a1.55 1.55 0 1 0 -3.1 0M262.99 341.12a1.55 1.55 0 1 0 3.1 0a1.55 1.55 0 1 0 -3.1 0M266.41 336.82a1.55 1.55 0 1 0 3.1 0a1.55 1.55 0 1 0 -3.1 0M269.94 332.60a1.55 1.55 0 1 0 3.1 0a1.55 1.55 0 1 0 -3.1 0M273.57 328.46a1.55 1.55 0 1 0 3.1 0a1.55 1.55 0 1 0 -3.1 0M277.27 324.39a1.55 1.55 0 1 0 3.1 0a1.55 1.55 0 1 0 -3.1 0M281.03 320.38a1.55 1.55 0 1 0 3.1 0a1.55 1.55 0 1 0 -3.1 0M284.84 316.42a1.55 1.55 0 1 0 3.1 0a1.55 1.55 0 1 0 -3.1 0M288.71 312.50a1.55 1.55 0 1 0 3.1 0a1.55 1.55 0 1 0 -3.1 0M292.63 308.65a1.55 1.55 0 1 0 3.1 0a1.55 1.55 0 1 0 -3.1 0M296.62 304.87a1.55 1.55 0 1 0 3.1 0a1.55 1.55 0 1 0 -3.1 0M300.69 301.17a1.55 1.55 0 1 0 3.1 0a1.55 1.55 0 1 0 -3.1 0M304.84 297.56a1.55 1.55 0 1 0 3.1 0a1.55 1.55 0 1 0 -3.1 0M309.07 294.04a1.55 1.55 0 1 0 3.1 0a1.55 1.55 0 1 0 -3.1 0M313.38 290.63a1.55 1.55 0 1 0 3.1 0a1.55 1.55 0 1 0 -3.1 0M317.78 287.32a1.55 1.55 0 1 0 3.1 0a1.55 1.55 0 1 0 -3.1 0M322.25 284.12a1.55 1.55 0 1 0 3.1 0a1.55 1.55 0 1 0 -3.1 0M326.79 281.02a1.55 1.55 0 1 0 3.1 0a1.55 1.55 0 1 0 -3.1 0M331.41 278.04a1.55 1.55 0 1 0 3.1 0a1.55 1.55 0 1 0 -3.1 0M336.10 275.16a1.55 1.55 0 1 0 3.1 0a1.55 1.55 0 1 0 -3.1 0M340.85 272.39a1.55 1.55 0 1 0 3.1 0a1.55 1.55 0 1 0 -3.1 0M345.67 269.73a1.55 1.55 0 1 0 3.1 0a1.55 1.55 0 1 0 -3.1 0M350.53 267.17a1.55 1.55 0 1 0 3.1 0a1.55 1.55 0 1 0 -3.1 0M355.45 264.69a1.55 1.55 0 1 0 3.1 0a1.55 1.55 0 1 0 -3.1 0M360.40 262.30a1.55 1.55 0 1 0 3.1 0a1.55 1.55 0 1 0 -3.1 0M365.37 259.96a1.55 1.55 0 1 0 3.1 0a1.55 1.55 0 1 0 -3.1 0M370.37 257.67a1.55 1.55 0 1 0 3.1 0a1.55 1.55 0 1 0 -3.1 0M375.38 255.40a1.55 1.55 0 1 0 3.1 0a1.55 1.55 0 1 0 -3.1 0M380.40 253.15a1.55 1.55 0 1 0 3.1 0a1.55 1.55 0 1 0 -3.1 0M385.41 250.88a1.55 1.55 0 1 0 3.1 0a1.55 1.55 0 1 0 -3.1 0M390.42 248.60a1.55 1.55 0 1 0 3.1 0a1.55 1.55 0 1 0 -3.1 0M395.42 246.30a1.55 1.55 0 1 0 3.1 0a1.55 1.55 0 1 0 -3.1 0M400.40 243.99a1.55 1.55 0 1 0 3.1 0a1.55 1.55 0 1 0 -3.1 0M405.39 241.66a1.55 1.55 0 1 0 3.1 0a1.55 1.55 0 1 0 -3.1 0M410.37 239.32a1.55 1.55 0 1 0 3.1 0a1.55 1.55 0 1 0 -3.1 0M415.34 236.97a1.55 1.55 0 1 0 3.1 0a1.55 1.55 0 1 0 -3.1 0M420.31 234.62a1.55 1.55 0 1 0 3.1 0a1.55 1.55 0 1 0 -3.1 0" fill="none" stroke="#ff0000" stroke-width="0.3" stroke-opacity="0.35"/>
<path d="M83.65 481.00a1.55 1.55 0 1 0 3.1 0a1.55 1.55 0 1 0 -3.1 0M89.15 480.95a1.55 1.55 0 1 0 3.1 0a1.55 1.55 0 1 0 -3.1 0M94.64 480.71a1.55 1.55 0 1 0 3.1 0a1.55 1.55 0 1 0 -3.1 0M100.13 480.28a1.55 1.55 0 1 0 3.1 0a1.55 1.55 0 1 0 -3.1 0M105.59 479.68a1.55 1.55 0 1 0 3.1 0a1.55 1.55 0 1 0 -3.1 0M111.04 478.92a1.55 1.55 0 1 0 3.1 0a1.55 1.55 0 1 0 -3.1 0M116.46 478.00a1.55 1.55 0 1 0 3.1 0a1.55 1.55 0 1 0 -3.1 0M121.86 476.93a1.55 1.55 0 1 0 3.1 0a1.55 1.55 0 1 0 -3.1 0M127.22 475.72a1.55 1.55 0 1 0 3.1 0a1.55 1.55 0 1 0 -3.1 0M132.55 474.37a1.55 1.55 0 1 0 3.1 0a1.55 1.55 0 1 0 -3.1 0M137.84 472.86a1.55 1.55 0 1 0 3.1 0a1.55 1.55 0 1 0 -3.1 0M143.07 471.17a1.55 1.55 0 1 0 3.1 0a1.55 1.55 0 1 0 -3.1 0M148.24 469.27a1.55 1.55 0 1 0 3.1 0a1.55 1.55 0 1 0 -3.1 0M153.32 467.16a1.55 1.55 0 1 0 3.1 0a1.55 1.55 0 1 0 -3.1 0M158.30 464.83a1.55 1.55 0 1 0 3.1 0a1.55 1.55 0 1 0 -3.1 0M163.17 462.27a1.55 1.55 0 1 0 3.1 0a1.55 1.55 0 1 0 -3.1 0M167.91 459.49a1.55 1.55 0 1 0 3.1 0a1.55 1.55 0 1 0 -3.1 0M172.53 456.50a1.55 1.55 0 1 0 3.1 0a1.55 1.55 0 1 0 -3.1 0M176.99 453.30a1.55 1.55 0 1 0 3.1 0a1.55 1.55 0 1 0 -3.1 0M181.31 449.89a1.55 1.55 0 1 0 3.1 0a1.55 1.55 0 1 0 -3.1 0M185.46 446.28a1.55 1.55 0 1 0 3.1 0a1.55 1.55 0 1 0 -3.1 0M189.46 442.50a1.55 1.55 0 1 0 3.1 0a1.55 1.55 0 1 0 -3.1 0M193.29 438.56a1.55 1.55 0 1 0 3.1 0a1.55 1.55 0 1 0 -3.1 0M196.97 434.47a1.55 1.55 0 1 0 3.1 0a1.55 1.55 0 1 0 -3.1 0M200.53 430.27a1.55 1.55 0 1 0 3.1 0a1.55 1.55 0 1 0 -3.1 0M203.97 425.99a1.55 1.55 0 1 0 3.1 0a1.55 1.55 0 1 0 -3.1 0M207.33 421.63a1.55 1.55 0 1 0 3.1 0a1.55 1.55 0 1 0 -3.1 0M210.60 417.21a1.55 1.55 0 1 0 3.1 0a1.55 1.55 0 1 0 -3.1 0M213.82 412.75a1.55 1.55 0 1 0 3.1 0a1.55 1.55 0 1 0 -3.1 0M216.98 408.25a1.55 1.55 0 1 0 3.1 0a1.55 1.55 0 1 0 -3.1 0M220.09 403.72a1.55 1.55 0 1 0 3.1 0a1.55 1.55 0 1 0 -3.1 0M223.18 399.16a1.55 1.55 0 1 0 3.1 0a1.55 1.55 0 1 0 -3.1 0M226.23 394.59a1.55 1.55 0 1 0 3.1 0a1.55 1.55 0 1 0 -3.1 0M229.27 390.00a1.55 1.55 0 1 0 3.1 0a1.55 1.55 0 1 0 -3.1 0M232.30 385.41a1.55 1.55 0 1 0 3.1 0a1.55 1.55 0 1 0 -3.1 0M235.32 380.82a1.55 1.55 0 1 0 3.1 0a1.55 1.55 0 1 0 -3.1 0M238.35 376.23a1.55 1.55 0 1 0 3.1 0a1.55 1.55 0 1 0 -3.1 0M241.39 371.64a1.55 1.55 0 1 0 3.1 0a1.55 1.55 0 1 0 -3.1 0M244.45 367.07a1.55 1.55 0 1 0 3.1 0a1.55 1.55 0 1 0 -3.1 0M247.53 362.51a1.55 1.55 0 1 0 3.1 0a1.55 1.55 0 1 0 -3.1 0M250.65 357.98a1.55 1.55 0 1 0 3.1 0a1.55 1.55 0 1 0 -3.1 0M253.81 353.48a1.55 1.55 0 1 0 3.1 0a1.55 1.55 0 1 0 -3.1 0M257.03 349.02a1.55 1.55 0 1 0 3.1 0a1.55 1.55 0 1 0 -3.1 0M260.31 344.61a1.55 1.55 0 1 0 3.1 0a1.55 1.55 0 1 0 -3.1 0M263.66 340.25a1.55 1.55 0 1 0 3.1 0a1.55 1.55 0 1 0 -3.1 0M267.11 335.97a1.55 1.55 0 1 0 3.1 0a1.55 1.55 0 1 0 -3.1 0M270.66 331.76a1.55 1.55 0 1 0 3.1 0a1.55 1.55 0 1 0 -3.1 0M274.30 327.64a1.55 1.55 0 1 0 3.1 0a1.55 1.55 0 1 0 -3.1 0M278.02 323.59a1.55 1.55 0 1 0 3.1 0a1.55 1.55 0 1 0 -3.1 0M281.79 319.58a1.55 1.55 0 1 0 3.1 0a1.55 1.55 0 1 0 -3.1 0M285.61 315.63a1.55 1.55 0 1 0 3.1 0a1.55 1.55 0 1 0 -3.1 0M289.49 311.73a1.55 1.55 0 1 0 3.1 0a1.55 1.55 0 1 0 -3.1 0M293.42 307.89a1.55 1.55 0 1 0 3.1 0a1.55 1.55 0 1 0 -3.1 0M297.43 304.12a1.55 1.55 0 1 0 3.1 0a1.55 1.55 0 1 0 -3.1 0M301.51 300.44a1.55 1.55 0 1 0 3.1 0a1.55 1.55 0 1 0 -3.1 0M305.68 296.85a1.55 1.55 0 1 0 3.1 0a1.55 1.55 0 1 0 -3.1 0M309.93 293.35a1.55 1.55 0 1 0 3.1 0a1.55 1.55 0 1 0 -3.1 0M314.26 289.96a1.55 1.55 0 1 0 3.1 0a1.55 1.55 0 1 0 -3.1 0M318.67 286.67a1.55 1.55 0 1 0 3.1 0a1.55 1.55 0 1 0 -3.1 0M323.15 283.49a1.55 1.55 0 1 0 3.1 0a1.55 1.55 0 1 0 -3.1 0M327.71 280.42a1.55 1.55 0 1 0 3.1 0a1.55 1.55 0 1 0 -3.1 0M332.35 277.45a1.55 1.55 0 1 0 3.1 0a1.55 1.55 0 1 0 -3.1 0M337.05 274.60a1.55 1.55 0 1 0 3.1 0a1.55 1.55 0 1 0 -3.1 0M341.81 271.85a1.55 1.55 0 1 0 3.1 0a1.55 1.55 0 1 0 -3.1 0M346.64 269.21a1.55 1.55 0 1 0 3.1 0a1.55 1.55 0 1 0 -3.1 0M351.51 266.67a1.55 1.55 0 1 0 3.1 0a1.55 1.55 0 1 0 -3.1 0M356.43 264.21a1.55 1.55 0 1 0 3.1 0a1.55 1.55 0 1 0 -3.1 0M361.39 261.82a1.55 1.55 0 1 0 3.1 0a1.55 1.55 0 1 0 -3.1 0M366.37 259.50a1.55 1.55 0 1 0 3.1 0a1.55 1.55 0 1 0 -3.1 0M371.37 257.21a1.55 1.55 0 1 0 3.1 0a1.55 1.55 0 1 0 -3.1 0M376.39 254.95a1.55 1.55 0 1 0 3.1 0a1.55 1.55 0 1 0 -3.1 0M381.40 252.69a1.55 1.55 0 1 0 3.1 0a1.55 1.55 0 1 0 -3.1 0M386.42 250.43a1.55 1.55 0 1 0 3.1 0a1.55 1.55 0 1 0 -3.1 0M391.42 248.14a1.55 1.55 0 1 0 3.1 0a1.55 1.55 0 1 0 -3.1 0M396.41 245.84a1.55 1.55 0 1 0 3.1 0a1.55 1.55 0 1 0 -3.1 0M401.40 243.52a1.55 1.55 0 1 0 3.1 0a1.55 1.55 0 1 0 -3.1 0M406.38 241.19a1.55 1.55 0 1 0 3.1 0a1.55 1.55 0 1 0 -3.1 0M411.36 238.85a1.55 1.55 0 1 0 3.1 0a1.55 1.55 0 1 0 -3.1 0M416.33 236.50a1.55 1.55 0 1 0 3.1 0a1.55 1.55 0 1 0 -3.1 0" fill="none" stroke="#ff0000" stroke-width="0.3" stroke-opacity="0.35"/>
<path d="M84.75 481.01a1.55 1.55 0 1 0 3.1 0a1.55 1.55 0 1 0 -3.1 0M90.25 480.92a1.55 1.55 0 1 0 3.1 0a1.55 1.55 0 1 0 -3.1 0M95.74 480.64a1.55 1.55 0 1 0 3.1 0a1.55 1.55 0 1 0 -3.1 0M101.22 480.18a1.55 1.55 0 1 0 3.1 0a1.55 1.55 0 1 0 -3.1 0M106.69 479.55a1.55 1.55 0 1 0 3.1 0a1.55 1.55 0 1 0 -3.1 0M112.13 478.75a1.55 1.55 0 1 0 3.1 0a1.55 1.55 0 1 0 -3.1 0M117.54 477.80a1.55 1.55 0 1 0 3.1 0a1.55 1.55 0 1 0 -3.1 0M122.93 476.70a1.55 1.55 0 1 0 3.1 0a1.55 1.55 0 1 0 -3.1 0M128.29 475.46a1.55 1.55 0 1 0 3.1 0a1.55 1.55 0 1 0 -3.1 0M133.62 474.08a1.55 1.55 0 1 0 3.1 0a1.55 1.55 0 1 0 -3.1 0M138.89 472.54a1.55 1.55 0 1 0 3.1 0a1.55 1.55 0 1 0 -3.1 0M144.11 470.80a1.55 1.55 0 1 0 3.1 0a1.55 1.55 0 1 0 -3.1 0M149.26 468.87a1.55 1.55 0 1 0 3.1 0a1.55 1.55 0 1 0 -3.1 0M154.32 466.71a1.55 1.55 0 1 0 3.1 0a1.55 1.55 0 1 0 -3.1 0M159.28 464.33a1.55 1.55 0 1 0 3.1 0a1.55 1.55 0 1 0 -3.1 0M164.13 461.73a1.55 1.55 0 1 0 3.1 0a1.55 1.55 0 1 0 -3.1 0M168.85 458.91a1.55 1.55 0 1 0 3.1 0a1.55 1.55 0 1 0 -3.1 0M173.43 455.88a1.55 1.55 0 1 0 3.1 0a1.55 1.55 0 1 0 -3.1 0M177.87 452.63a1.55 1.55 0 1 0 3.1 0a1.55 1.55 0 1 0 -3.1 0M182.15 449.18a1.55 1.55 0 1 0 3.1 0a1.55 1.55 0 1 0 -3.1 0M186.28 445.54a1.55 1.55 0 1 0 3.1 0a1.55 1.55 0 1 0 -3.1 0M190.24 441.72a1.55 1.55 0 1 0 3.1 0a1.55 1.55 0 1 0 -3.1 0M194.04 437.75a1.55 1.55 0 1 0 3.1 0a1.55 1.55 0 1 0 -3.1 0M197.69 433.64a1.55 1.55 0 1 0 3.1 0a1.55 1.55 0 1 0 -3.1 0M201.22 429.42a1.55 1.55 0 1 0 3.1 0a1.55 1.55 0 1 0 -3.1 0M204.65 425.12a1.55 1.55 0 1 0 3.1 0a1.55 1.55 0 1 0 -3.1 0M207.99 420.75a1.55 1.55 0 1 0 3.1 0a1.55 1.55 0 1 0 -3.1 0M211.25 416.32a1.55 1.55 0 1 0 3.1 0a1.55 1.55 0 1 0 -3.1 0M214.45 411.85a1.55 1.55 0 1 0 3.1 0a1.55 1.55 0 1 0 -3.1 0M217.60 407.34a1.55 1.55 0 1 0 3.1 0a1.55 1.55 0 1 0 -3.1 0M220.71 402.81a1.55 1.55 0 1 0 3.1 0a1.55 1.55 0 1 0 -3.1 0M223.79 398.25a1.55 1.55 0 1 0 3.1 0a1.55 1.55 0 1 0 -3.1 0M226.84 393.67a1.55 1.55 0 1 0 3.1 0a1.55 1.55 0 1 0 -3.1 0M229.88 389.08a1.55 1.55 0 1 0 3.1 0a1.55 1.55 0 1 0 -3.1 0M232.90 384.49a1.55 1.55 0 1 0 3.1 0a1.55 1.55 0 1 0 -3.1 0M235.93 379.90a1.55 1.55 0 1 0 3.1 0a1.55 1.55 0 1 0 -3.1 0M238.96 375.31a1.55 1.55 0 1 0 3.1 0a1.55 1.55 0 1 0 -3.1 0M242.00 370.73a1.55 1.55 0 1 0 3.1 0a1.55 1.55 0 1 0 -3.1 0M245.06 366.16a1.55 1.55 0 1 0 3.1 0a1.55 1.55 0 1 0 -3.1 0M248.15 361.61a1.55 1.55 0 1 0 3.1 0a1.55 1.55 0 1 0 -3.1 0M251.28 357.08a1.55 1.55 0 1 0 3.1 0a1.55 1.55 0 1 0 -3.1 0M254.45 352.59a1.55 1.55 0 1 0 3.1 0a1.55 1.55 0 1 0 -3.1 0M257.68 348.14a1.55 1.55 0 1 0 3.1 0a1.55 1.55 0 1 0 -3.1 0M260.97 343.73a1.55 1.55 0 1 0 3.1 0a1.55 1.55 0 1 0 -3.1 0M264.35 339.39a1.55 1.55 0 1 0 3.1 0a1.55 1.55 0 1 0 -3.1 0M267.81 335.12a1.55 1.55 0 1 0 3.1 0a1.55 1.55 0 1 0 -3.1 0M271.38 330.93a1.55 1.55 0 1 0 3.1 0a1.55 1.55 0 1 0 -3.1 0M275.04 326.83a1.55 1.55 0 1 0 3.1 0a1.55 1.55 0 1 0 -3.1 0M278.77 322.78a1.55 1.55 0 1 0 3.1 0a1.55 1.55 0 1 0 -3.1 0M282.55 318.79a1.55 1.55 0 1 0 3.1 0a1.55 1.55 0 1 0 -3.1 0M286.38 314.84a1.55 1.55 0 1 0 3.1 0a1.55 1.55 0 1 0 -3.1 0M290.27 310.95a1.55 1.55 0 1 0 3.1 0a1.55 1.55 0 1 0 -3.1 0M294.22 307.13a1.55 1.55 0 1 0 3.1 0a1.55 1.55 0 1 0 -3.1 0M298.24 303.38a1.55 1.55 0 1 0 3.1 0a1.55 1.55 0 1 0 -3.1 0M302.34 299.71a1.55 1.55 0 1 0 3.1 0a1.55 1.55 0 1 0 -3.1 0M306.52 296.14a1.55 1.55 0 1 0 3.1 0a1.55 1.55 0 1 0 -3.1 0M310.79 292.67a1.55 1.55 0 1 0 3.1 0a1.55 1.55 0 1 0 -3.1 0M315.13 289.29a1.55 1.55 0 1 0 3.1 0a1.55 1.55 0 1 0 -3.1 0M319.56 286.03a1.55 1.55 0 1 0 3.1 0a1.55 1.55 0 1 0 -3.1 0M324.06 282.87a1.55 1.55 0 1 0 3.1 0a1.55 1.55 0 1 0 -3.1 0M328.63 279.82a1.55 1.55 0 1 0 3.1 0a1.55 1.55 0 1 0 -3.1 0M333.28 276.87a1.55 1.55 0 1 0 3.1 0a1.55 1.55 0 1 0 -3.1 0M337.99 274.04a1.55 1.55 0 1 0 3.1 0a1.55 1.55 0 1 0 -3.1 0M342.77 271.31a1.55 1.55 0 1 0 3.1 0a1.55 1.55 0 1 0 -3.1 0M347.61 268.69a1.55 1.55 0 1 0 3.1 0a1.55 1.55 0 1 0 -3.1 0M352.49 266.17a1.55 1.55 0 1 0 3.1 0a1.55 1.55 0 1 0 -3.1 0M357.42 263.73a1.55 1.55 0 1 0 3.1 0a1.55 1.55 0 1 0 -3.1 0M362.38 261.36a1.55 1.55 0 1 0 3.1 0a1.55 1.55 0 1 0 -3.1 0M367.37 259.04a1.55 1.55 0 1 0 3.1 0a1.55 1.55 0 1 0 -3.1 0M372.38 256.76a1.55 1.55 0 1 0 3.1 0a1.55 1.55 0 1 0 -3.1 0M377.39 254.50a1.55 1.55 0 1 0 3.1 0a1.55 1.55 0 1 0 -3.1 0M382.41 252.24a1.55 1.55 0 1 0 3.1 0a1.55 1.55 0 1 0 -3.1 0M387.42 249.97a1.55 1.55 0 1 0 3.1 0a1.55 1.55 0 1 0 -3.1 0M392.42 247.68a1.55 1.55 0 1 0 3.1 0a1.55 1.55 0 1 0 -3.1 0M397.41 245.38a1.55 1.55 0 1 0 3.1 0a1.55 1.55 0 1 0 -3.1 0M402.40 243.06a1.55 1.55 0 1 0 3.1 0a1.55 1.55 0 1 0 -3.1 0M407.38 240.72a1.55 1.55 0 1 0 3.1 0a1.55 1.55 0 1 0 -3.1 0M412.36 238.38a1.55 1.55 0 1 0 3.1 0a1.55 1.55 0 1 0 -3.1 0M417.33 236.03a1.55 1.55 0 1 0 3.1 0a1.55 1.55 0 1 0 -3.1 0" fill="none" stroke="#ff0000" stroke-width="0.3" stroke-opacity="0.35"/>
<path d="M85.85 481.00a1.55 1.55 0 1 0 3.1 0a1.55 1.55 0 1 0 -3.1 0M91.35 480.87a1.55 1.55 0 1 0 3.1 0a1.55 1.55 0 1 0 -3.1 0M96.84 480.56a1.55 1.55 0 1 0 3.1 0a1.55 1.55 0 1 0 -3.1 0M102.32 480.06a1.55 1.55 0 1 0 3.1 0a1.55 1.55 0 1 0 -3.1 0M107.78 479.40a1.55 1.55 0 1 0 3.1 0a1.55 1.55 0 1 0 -3.1 0M113.21 478.57a1.55 1.55 0 1 0 3.1 0a1.55 1.55 0 1 0 -3.1 0M118.62 477.59a1.55 1.55 0 1 0 3.1 0a1.55 1.55 0 1 0 -3.1 0M124.01 476.46a1.55 1.55 0 1 0 3.1 0a1.55 1.55 0 1 0 -3.1 0M129.36 475.20a1.55 1.55 0 1 0 3.1 0a1.55 1.55 0 1 0 -3.1 0M134.68 473.79a1.55 1.55 0 1 0 3.1 0a1.55 1.55 0 1 0 -3.1 0M139.94 472.21a1.55 1.55 0 1 0 3.1 0a1.55 1.55 0 1 0 -3.1 0M145.15 470.43a1.55 1.55 0 1 0 3.1 0a1.55 1.55 0 1 0 -3.1 0M150.28 468.45a1.55 1.55 0 1 0 3.1 0a1.55 1.55 0 1 0 -3.1 0M155.32 466.25a1.55 1.55 0 1 0 3.1 0a1.55 1.55 0 1 0 -3.1 0M160.26 463.83a1.55 1.55 0 1 0 3.1 0a1.55 1.55 0 1 0 -3.1 0M165.08 461.19a1.55 1.55 0 1 0 3.1 0a1.55 1.55 0 1 0 -3.1 0M169.77 458.32a1.55 1.55 0 1 0 3.1 0a1.55 1.55 0 1 0 -3.1 0M174.33 455.24a1.55 1.55 0 1 0 3.1 0a1.55 1.55 0 1 0 -3.1 0M178.74 451.96a1.55 1.55 0 1 0 3.1 0a1.55 1.55 0 1 0 -3.1 0M182.99 448.47a1.55 1.55 0 1 0 3.1 0a1.55 1.55 0 1 0 -3.1 0M187.08 444.79a1.55 1.55 0 1 0 3.1 0a1.55 1.55 0 1 0 -3.1 0M191.01 440.94a1.55 1.55 0 1 0 3.1 0a1.55 1.55 0 1 0 -3.1 0M194.78 436.94a1.55 1.55 0 1 0 3.1 0a1.55 1.55 0 1 0 -3.1 0M198.41 432.80a1.55 1.55 0 1 0 3.1 0a1.55 1.55 0 1 0 -3.1 0M201.92 428.57a1.55 1.55 0 1 0 3.1 0a1.55 1.55 0 1 0 -3.1 0M205.32 424.25a1.55 1.55 0 1 0 3.1 0a1.55 1.55 0 1 0 -3.1 0M208.65 419.87a1.55 1.55 0 1 0 3.1 0a1.55 1.55 0 1 0 -3.1 0M211.90 415.43a1.55 1.55 0 1 0 3.1 0a1.55 1.55 0 1 0 -3.1 0M215.09 410.95a1.55 1.55 0 1 0 3.1 0a1.55 1.55 0 1 0 -3.1 0M218.23 406.44a1.55 1.55 0 1 0 3.1 0a1.55 1.55 0 1 0 -3.1 0M221.33 401.90a1.55 1.55 0 1 0 3.1 0a1.55 1.55 0 1 0 -3.1 0M224.40 397.33a1.55 1.55 0 1 0 3.1 0a1.55 1.55 0 1 0 -3.1 0M227.45 392.75a1.55 1.55 0 1 0 3.1 0a1.55 1.55 0 1 0 -3.1 0M230.48 388.17a1.55 1.55 0 1 0 3.1 0a1.55 1.55 0 1 0 -3.1 0M233.51 383.57a1.55 1.55 0 1 0 3.1 0a1.55 1.55 0 1 0 -3.1 0M236.53 378.98a1.55 1.55 0 1 0 3.1 0a1.55 1.55 0 1 0 -3.1 0M239.56 374.39a1.55 1.55 0 1 0 3.1 0a1.55 1.55 0 1 0 -3.1 0M242.61 369.81a1.55 1.55 0 1 0 3.1 0a1.55 1.55 0 1 0 -3.1 0M245.68 365.24a1.55 1.55 0 1 0 3.1 0a1.55 1.55 0 1 0 -3.1 0M248.77 360.70a1.55 1.55 0 1 0 3.1 0a1.55 1.55 0 1 0 -3.1 0M251.91 356.18a1.55 1.55 0 1 0 3.1 0a1.55 1.55 0 1 0 -3.1 0M255.09 351.69a1.55 1.55 0 1 0 3.1 0a1.55 1.55 0 1 0 -3.1 0M258.33 347.25a1.55 1.55 0 1 0 3.1 0a1.55 1.55 0 1 0 -3.1 0M261.64 342.86a1.55 1.55 0 1 0 3.1 0a1.55 1.55 0 1 0 -3.1 0M265.03 338.53a1.55 1.55 0 1 0 3.1 0a1.55 1.55 0 1 0 -3.1 0M268.52 334.28a1.55 1.55 0 1 0 3.1 0a1.55 1.55 0 1 0 -3.1 0M272.11 330.11a1.55 1.55 0 1 0 3.1 0a1.55 1.55 0 1 0 -3.1 0M275.78 326.01a1.55 1.55 0 1 0 3.1 0a1.55 1.55 0 1 0 -3.1 0M279.52 321.98a1.55 1.55 0 1 0 3.1 0a1.55 1.55 0 1 0 -3.1 0M283.31 318.00a1.55 1.55 0 1 0 3.1 0a1.55 1.55 0 1 0 -3.1 0M287.15 314.06a1.55 1.55 0 1 0 3.1 0a1.55 1.55 0 1 0 -3.1 0M291.05 310.18a1.55 1.55 0 1 0 3.1 0a1.55 1.55 0 1 0 -3.1 0M295.02 306.37a1.55 1.55 0 1 0 3.1 0a1.55 1.55 0 1 0 -3.1 0M299.05 302.64a1.55 1.55 0 1 0 3.1 0a1.55 1.55 0 1 0 -3.1 0M303.17 298.99a1.55 1.55 0 1 0 3.1 0a1.55 1.55 0 1 0 -3.1 0M307.37 295.44a1.55 1.55 0 1 0 3.1 0a1.55 1.55 0 1 0 -3.1 0M311.65 291.98a1.55 1.55 0 1 0 3.1 0a1.55 1.55 0 1 0 -3.1 0M316.01 288.63a1.55 1.55 0 1 0 3.1 0a1.55 1.55 0 1 0 -3.1 0M320.45 285.39a1.55 1.55 0 1 0 3.1 0a1.55 1.55 0 1 0 -3.1 0M324.97 282.25a1.55 1.55 0 1 0 3.1 0a1.55 1.55 0 1 0 -3.1 0M329.56 279.22a1.55 1.55 0 1 0 3.1 0a1.55 1.55 0 1 0 -3.1 0M334.22 276.30a1.55 1.55 0 1 0 3.1 0a1.55 1.55 0 1 0 -3.1 0M338.94 273.49a1.55 1.55 0 1 0 3.1 0a1.55 1.55 0 1 0 -3.1 0M343.73 270.78a1.55 1.55 0 1 0 3.1 0a1.55 1.55 0 1 0 -3.1 0M348.58 268.18a1.55 1.55 0 1 0 3.1 0a1.55 1.55 0 1 0 -3.1 0M353.48 265.67a1.55 1.55 0 1 0 3.1 0a1.55 1.55 0 1 0 -3.1 0M358.41 263.25a1.55 1.55 0 1 0 3.1 0a1.55 1.55 0 1 0 -3.1 0M363.38 260.89a1.55 1.55 0 1 0 3.1 0a1.55 1.55 0 1 0 -3.1 0M368.37 258.58a1.55 1.55 0 1 0 3.1 0a1.55 1.55 0 1 0 -3.1 0M373.38 256.30a1.55 1.55 0 1 0 3.1 0a1.55 1.55 0 1 0 -3.1 0M378.39 254.05a1.55 1.55 0 1 0 3.1 0a1.55 1.55 0 1 0 -3.1 0M383.41 251.79a1.55 1.55 0 1 0 3.1 0a1.55 1.55 0 1 0 -3.1 0M388.42 249.52a1.55 1.55 0 1 0 3.1 0a1.55 1.55 0 1 0 -3.1 0M393.42 247.22a1.55 1.55 0 1 0 3.1 0a1.55 1.55 0 1 0 -3.1 0M398.41 244.92a1.55 1.55 0 1 0 3.1 0a1.55 1.55 0 1 0 -3.1 0M403.39 242.59a1.55 1.55 0 1 0 3.1 0a1.55 1.55 0 1 0 -3.1 0M408.37 240.26a1.55 1.55 0 1 0 3.1 0a1.55 1.55 0 1 0 -3.1 0M413.35 237.91a1.55 1.55 0 1 0 3.1 0a1.55 1.55 0 1 0 -3.1 0M418.32 235.56a1.55 1.55 0 1 0 3.1 0a1.55 1.55 0 1 0 -3.1 0" fill="none" stroke="#ff0000" stroke-width="0.3" stroke-opacity="0.35"/>
<path d="M82.80 481.16L83.80 481.17L84.80 481.17L85.80 481.18L86.80 481.18L87.80 481.17L88.80 481.17L89.80 481.16L90.80 481.15L91.80 481.14L92.80 481.13L93.80 481.12L94.80 481.10L95.80 481.08L96.80 481.06L97.80 481.04L98.80 481.01L99.80 480.98L100.80 480.95L101.80 480.92L102.80 480.89L103.80 480.85L104.80 480.81L105.79 480.78L106.79 480.73L107.79 480.69L108.79 480.64L109.79 480.60L110.79 480.55L111.79 480.50L112.79 480.44L113.79 480.39L114.78 480.33L115.78 480.27L116.78 480.21L117.78 480.15L118.78 480.08L119.77 480.01L120.77 479.95L121.77 479.88L122.77 479.80L123.76 479.73L124.76 479.65L125.76 479.57L126.75 479.49L127.75 479.41L128.75 479.33L129.74 479.24L130.74 479.16L131.74 479.07L132.73 478.98L133.73 478.89L134.72 478.79L135.72 478.70L136.71 478.60L137.71 478.50L138.70 478.40L139.70 478.29L140.69 478.19L141.69 478.08L142.68 477.98L143.68 477.87L144.67 477.76L145.66 477.64L146.66 477.53L147.65 477.41L148.64 477.29L149.64 477.18L150.63 477.05L151.62 476.93L152.61 476.81L153.60 476.68L154.60 476.55L155.59 476.43L156.58 476.30L157.57 476.16L158.56 476.03L159.55 475.90L160.54 475.76L161.53 475.62L162.52 475.48L163.51 475.34L164.50 475.20L165.49 475.05L166.48 474.91L167.47 474.76L168.46 474.61L169.45 474.46L170.44 474.31L171.43 474.16L172.41 474.01L173.40 473.85L174.39 473.69L175.38 473.53L176.36 473.37L177.35 473.21L178.34 473.05L179.32 472.89L180.31 472.72L181.30 472.55L182.28 472.39L183.27 472.22L184.25 472.04L185.24 471.87L186.22 471.70L187.21 471.52L188.19 471.34L189.17 471.16L190.16 470.98L191.14 470.80L192.12 470.62L193.11 470.43L194.09 470.25L195.07 470.06L196.05 469.87L197.04 469.68L198.02 469.48L199.00 469.29L199.98 469.09L200.96 468.90L201.94 468.70L202.92 468.50L203.90 468.30L204.88 468.09L205.86 467.89L206.83 467.68L207.81 467.47L208.79 467.26L209.77 467.05L210.74 466.84L211.72 466.62L212.70 466.41L213.67 466.19L214.65 465.97L215.62 465.75L216.60 465.53L217.57 465.30L218.55 465.08L219.52 464.85L220.50 464.62L221.47 464.39L222.44 464.16L223.41 463.92L224.39 463.69L225.36 463.45L226.33 463.21L227.30 462.97L228.27 462.73L229.24 462.49L230.21 462.24L231.18 461.99L232.15 461.75L233.11 461.50L234.08 461.24L235.05 460.99L236.02 460.74L236.98 460.48L237.95 460.22L238.91 459.96L239.88 459.70L240.84 459.43L241.81 459.17L242.77 458.90L243.74 458.63L244.70 458.36L245.66 458.09L246.62 457.82L247.58 457.54L248.54 457.27L249.51 456.99L250.47 456.71L251.42 456.43L252.38 456.14L253.34 455.86L254.30 455.57L255.26 455.28L256.21 454.99L257.17 454.70L258.13 454.41L259.08 454.11L260.04 453.82L260.99 453.52L261.95 453.22L262.90 452.92L263.85 452.61L264.80 452.31L265.76 452.00L266.71 451.69L267.66 451.38L268.61 451.07L269.56 450.76L270.51 450.45L271.46 450.13L272.41 449.81L273.35 449.50L274.30 449.18L275.25 448.85L276.19 448.53L277.14 448.21L278.09 447.88L279.03 447.56L279.98 447.23L280.92 446.90L281.86 446.57L282.81 446.24L283.75 445.91L284.69 445.57L285.64 445.24L286.58 444.90L287.52 444.56L288.46 444.22L289.40 443.88L290.34 443.54L291.28 443.20L292.22 442.86L293.16 442.51L294.10 442.17L295.03 441.82L295.97 441.47L296.91 441.12L297.85 440.77L298.78 440.42L299.72 440.07L300.65 439.72L301.59 439.36L302.52 439.01L303.46 438.65L304.39 438.30L305.33 437.94L306.26 437.58L307.19 437.22L308.13 436.86L309.06 436.50L309.99 436.14L310.92 435.77L311.85 435.41L312.78 435.04L313.72 434.68L314.65 434.31L315.58 433.95L316.51 433.58L317.44 433.21L318.37 432.84L319.29 432.47L320.22 432.10L321.15 431.73L322.08 431.36L323.01 430.98L323.94 430.61L324.86 430.24L325.79 429.86L326.72 429.49L327.64 429.11L328.57 428.74L329.50 428.36L330.42 427.98L331.35 427.60L332.27 427.22L333.20 426.84L334.12 426.46L335.05 426.08L335.97 425.70L336.90 425.32L337.82 424.94L338.75 424.56L339.67 424.18L340.59 423.79L341.52 423.41L342.44 423.02L343.36 422.64L344.29 422.26L345.21 421.87L346.13 421.48L347.05 421.10L347.98 420.71L348.90 420.33L349.82 419.94L350.74 419.55L351.67 419.16L352.59 418.77L353.51 418.39L354.43 418.00L355.35 417.61L356.27 417.22L357.19 416.83L358.11 416.44L359.03 416.05L359.95 415.66L360.87 415.27L361.79 414.87L362.71 414.48L363.63 414.09L364.55 413.70L365.47 413.31L366.39 412.91L367.31 412.52L368.23 412.13L369.15 411.73L370.07 411.34L370.99 410.94L371.91 410.55L372.83 410.15L373.75 409.76L374.66 409.36L375.58 408.97L376.50 408.57L377.42 408.18L378.34 407.78L379.26 407.38L380.17 406.99L381.09 406.59L382.01 406.19L382.93 405.80L383.84 405.40L384.76 405.00L385.68 404.60L386.60 404.20L387.51 403.81L388.43 403.41L389.35 403.01L390.27 402.61L391.18 402.21L392.10 401.81L393.02 401.41L393.93 401.01L394.85 400.61L395.77 400.21L396.68 399.81L397.60 399.41L398.51 399.01L399.43 398.61L400.35 398.21L401.26 397.81L402.18 397.41L403.10 397.01L404.01 396.61L404.93 396.21L405.84 395.80L406.76 395.40L407.68 395.00L408.59 394.60L409.51 394.20L410.42 393.80L411.34 393.40L412.25 392.99L413.17 392.59L414.09 392.19L415.00 391.79L415.92 391.38L416.83 390.98L417.75 390.58L418.66 390.18L419.58 389.78L420.49 389.37L421.41 388.97" fill="none" stroke="#7474ff" stroke-width="3.8" stroke-linejoin="round"/>
<path d="M82.80 481.16L83.80 481.17L84.80 481.17L85.80 481.18L86.80 481.18L87.80 481.17L88.80 481.17L89.80 481.16L90.80 481.15L91.80 481.14L92.80 481.13L93.80 481.12L94.80 481.10L95.80 481.08L96.80 481.06L97.80 481.04L98.80 481.01L99.80 480.98L100.80 480.95L101.80 480.92L102.80 480.89L103.80 480.85L104.80 480.81L105.79 480.78L106.79 480.73L107.79 480.69L108.79 480.64L109.79 480.60L110.79 480.55L111.79 480.50L112.79 480.44L113.79 480.39L114.78 480.33L115.78 480.27L116.78 480.21L117.78 480.15L118.78 480.08L119.77 480.01L120.77 479.95L121.77 479.88L122.77 479.80L123.76 479.73L124.76 479.65L125.76 479.57L126.75 479.49L127.75 479.41L128.75 479.33L129.74 479.24L130.74 479.16L131.74 479.07L132.73 478.98L133.73 478.89L134.72 478.79L135.72 478.70L136.71 478.60L137.71 478.50L138.70 478.40L139.70 478.29L140.69 478.19L141.69 478.08L142.68 477.98L143.68 477.87L144.67 477.76L145.66 477.64L146.66 477.53L147.65 477.41L148.64 477.29L149.64 477.18L150.63 477.05L151.62 476.93L152.61 476.81L153.60 476.68L154.60 476.55L155.59 476.43L156.58 476.30L157.57 476.16L158.56 476.03L159.55 475.90L160.54 475.76L161.53 475.62L162.52 475.48L163.51 475.34L164.50 475.20L165.49 475.05L166.48 474.91L167.47 474.76L168.46 474.61L169.45 474.46L170.44 474.31L171.43 474.16L172.41 474.01L173.40 473.85L174.39 473.69L175.38 473.53L176.36 473.37L177.35 473.21L178.34 473.05L179.32 472.89L180.31 472.72L181.30 472.55L182.28 472.39L183.27 472.22L184.25 472.04L185.24 471.87L186.22 471.70L187.21 471.52L188.19 471.34L189.17 471.16L190.16 470.98L191.14 470.80L192.12 470.62L193.11 470.43L194.09 470.25L195.07 470.06L196.05 469.87L197.04 469.68L198.02 469.48L199.00 469.29L199.98 469.09L200.96 468.90L201.94 468.70L202.92 468.50L203.90 468.30L204.88 468.09L205.86 467.89L206.83 467.68L207.81 467.47L208.79 467.26L209.77 467.05L210.74 466.84L211.72 466.62L212.70 466.41L213.67 466.19L214.65 465.97L215.62 465.75L216.60 465.53L217.57 465.30L218.55 465.08L219.52 464.85L220.50 464.62L221.47 464.39L222.44 464.16L223.41 463.92L224.39 463.69L225.36 463.45L226.33 463.21L227.30 462.97L228.27 462.73L229.24 462.49L230.21 462.24L231.18 461.99L232.15 461.75L233.11 461.50L234.08 461.24L235.05 460.99L236.02 460.74L236.98 460.48L237.95 460.22L238.91 459.96L239.88 459.70L240.84 459.43L241.81 459.17L242.77 458.90L243.74 458.63L244.70 458.36L245.66 458.09L246.62 457.82L247.58 457.54L248.54 457.27L249.51 456.99L250.47 456.71L251.42 456.43L252.38 456.14L253.34 455.86L254.30 455.57L255.26 455.28L256.21 454.99L257.17 454.70L258.13 454.41L259.08 454.11L260.04 453.82L260.99 453.52L261.95 453.22L262.90 452.92L263.85 452.61L264.80 452.31L265.76 452.00L266.71 451.69L267.66 451.38L268.61 451.07L269.56 450.76L270.51 450.45L271.46 450.13L272.41 449.81L273.35 449.50L274.30 449.18L275.25 448.85L276.19 448.53L277.14 448.21L278.09 447.88L279.03 447.56L279.98 447.23L280.92 446.90L281.86 446.57L282.81 446.24L283.75 445.91L284.69 445.57L285.64 445.24L286.58 444.90L287.52 444.56L288.46 444.22L289.40 443.88L290.34 443.54L291.28 443.20L292.22 442.86L293.16 442.51L294.10 442.17L295.03 441.82L295.97 441.47L296.91 441.12L297.85 440.77L298.78 440.42L299.72 440.07L300.65 439.72L301.59 439.36L302.52 439.01L303.46 438.65L304.39 438.30L305.33 437.94L306.26 437.58L307.19 437.22L308.13 436.86L309.06 436.50L309.99 436.14L310.92 435.77L311.85 435.41L312.78 435.04L313.72 434.68L314.65 434.31L315.58 433.95L316.51 433.58L317.44 433.21L318.37 432.84L319.29 432.47L320.22 432.10L321.15 431.73L322.08 431.36L323.01 430.98L323.94 430.61L324.86 430.24L325.79 429.86L326.72 429.49L327.64 429.11L328.57 428.74L329.50 428.36L330.42 427.98L331.35 427.60L332.27 427.22L333.20 426.84L334.12 426.46L335.05 426.08L335.97 425.70L336.90 425.32L337.82 424.94L338.75 424.56L339.67 424.18L340.59 423.79L341.52 423.41L342.44 423.02L343.36 422.64L344.29 422.26L345.21 421.87L346.13 421.48L347.05 421.10L347.98 420.71L348.90 420.33L349.82 419.94L350.74 419.55L351.67 419.16L352.59 418.77L353.51 418.39L354.43 418.00L355.35 417.61L356.27 417.22L357.19 416.83L358.11 416.44L359.03 416.05L359.95 415.66L360.87 415.27L361.79 414.87L362.71 414.48L363.63 414.09L364.55 413.70L365.47 413.31L366.39 412.91L367.31 412.52L368.23 412.13L369.15 411.73L370.07 411.34L370.99 410.94L371.91 410.55L372.83 410.15L373.75 409.76L374.66 409.36L375.58 408.97L376.50 408.57L377.42 408.18L378.34 407.78L379.26 407.38L380.17 406.99L381.09 406.59L382.01 406.19L382.93 405.80L383.84 405.40L384.76 405.00L385.68 404.60L386.60 404.20L387.51 403.81L388.43 403.41L389.35 403.01L390.27 402.61L391.18 402.21L392.10 401.81L393.02 401.41L393.93 401.01L394.85 400.61L395.77 400.21L396.68 399.81L397.60 399.41L398.51 399.01L399.43 398.61L400.35 398.21L401.26 397.81L402.18 397.41L403.10 397.01L404.01 396.61L404.93 396.21L405.84 395.80L406.76 395.40L407.68 395.00L408.59 394.60L409.51 394.20L410.42 393.80L411.34 393.40L412.25 392.99L413.17 392.59L414.09 392.19L415.00 391.79L415.92 391.38L416.83 390.98L417.75 390.58L418.66 390.18L419.58 389.78L420.49 389.37L421.41 388.97" fill="none" stroke="#9696ff" stroke-width="1.6" stroke-linejoin="round"/>
<path d="M81.40 481.16a1.6 1.6 0 1 0 3.2 0a1.6 1.6 0 1 0 -3.2 0M86.65 481.17a1.6 1.6 0 1 0 3.2 0a1.6 1.6 0 1 0 -3.2 0M91.90 481.12a1.6 1.6 0 1 0 3.2 0a1.6 1.6 0 1 0 -3.2 0M97.15 481.01a1.6 1.6 0 1 0 3.2 0a1.6 1.6 0 1 0 -3.2 0M102.40 480.85a1.6 1.6 0 1 0 3.2 0a1.6 1.6 0 1 0 -3.2 0M107.64 480.62a1.6 1.6 0 1 0 3.2 0a1.6 1.6 0 1 0 -3.2 0M112.88 480.35a1.6 1.6 0 1 0 3.2 0a1.6 1.6 0 1 0 -3.2 0M118.12 480.02a1.6 1.6 0 1 0 3.2 0a1.6 1.6 0 1 0 -3.2 0M123.36 479.64a1.6 1.6 0 1 0 3.2 0a1.6 1.6 0 1 0 -3.2 0M128.59 479.21a1.6 1.6 0 1 0 3.2 0a1.6 1.6 0 1 0 -3.2 0M133.82 478.72a1.6 1.6 0 1 0 3.2 0a1.6 1.6 0 1 0 -3.2 0M139.04 478.20a1.6 1.6 0 1 0 3.2 0a1.6 1.6 0 1 0 -3.2 0M144.26 477.62a1.6 1.6 0 1 0 3.2 0a1.6 1.6 0 1 0 -3.2 0M149.47 477.00a1.6 1.6 0 1 0 3.2 0a1.6 1.6 0 1 0 -3.2 0M154.68 476.33a1.6 1.6 0 1 0 3.2 0a1.6 1.6 0 1 0 -3.2 0M159.88 475.63a1.6 1.6 0 1 0 3.2 0a1.6 1.6 0 1 0 -3.2 0M165.08 474.88a1.6 1.6 0 1 0 3.2 0a1.6 1.6 0 1 0 -3.2 0M170.27 474.09a1.6 1.6 0 1 0 3.2 0a1.6 1.6 0 1 0 -3.2 0M175.46 473.26a1.6 1.6 0 1 0 3.2 0a1.6 1.6 0 1 0 -3.2 0M180.63 472.39a1.6 1.6 0 1 0 3.2 0a1.6 1.6 0 1 0 -3.2 0M185.80 471.48a1.6 1.6 0 1 0 3.2 0a1.6 1.6 0 1 0 -3.2 0M190.97 470.53a1.6 1.6 0 1 0 3.2 0a1.6 1.6 0 1 0 -3.2 0M196.12 469.54a1.6 1.6 0 1 0 3.2 0a1.6 1.6 0 1 0 -3.2 0M201.27 468.51a1.6 1.6 0 1 0 3.2 0a1.6 1.6 0 1 0 -3.2 0M206.41 467.43a1.6 1.6 0 1 0 3.2 0a1.6 1.6 0 1 0 -3.2 0M211.54 466.31a1.6 1.6 0 1 0 3.2 0a1.6 1.6 0 1 0 -3.2 0M216.66 465.14a1.6 1.6 0 1 0 3.2 0a1.6 1.6 0 1 0 -3.2 0M221.76 463.94a1.6 1.6 0 1 0 3.2 0a1.6 1.6 0 1 0 -3.2 0M226.86 462.68a1.6 1.6 0 1 0 3.2 0a1.6 1.6 0 1 0 -3.2 0M231.95 461.38a1.6 1.6 0 1 0 3.2 0a1.6 1.6 0 1 0 -3.2 0M237.02 460.04a1.6 1.6 0 1 0 3.2 0a1.6 1.6 0 1 0 -3.2 0M242.09 458.65a1.6 1.6 0 1 0 3.2 0a1.6 1.6 0 1 0 -3.2 0M247.14 457.21a1.6 1.6 0 1 0 3.2 0a1.6 1.6 0 1 0 -3.2 0M252.17 455.73a1.6 1.6 0 1 0 3.2 0a1.6 1.6 0 1 0 -3.2 0M257.20 454.20a1.6 1.6 0 1 0 3.2 0a1.6 1.6 0 1 0 -3.2 0M262.20 452.63a1.6 1.6 0 1 0 3.2 0a1.6 1.6 0 1 0 -3.2 0M267.20 451.01a1.6 1.6 0 1 0 3.2 0a1.6 1.6 0 1 0 -3.2 0M272.18 449.35a1.6 1.6 0 1 0 3.2 0a1.6 1.6 0 1 0 -3.2 0M277.15 447.65a1.6 1.6 0 1 0 3.2 0a1.6 1.6 0 1 0 -3.2 0M282.10 445.92a1.6 1.6 0 1 0 3.2 0a1.6 1.6 0 1 0 -3.2 0M287.05 444.15a1.6 1.6 0 1 0 3.2 0a1.6 1.6 0 1 0 -3.2 0M291.98 442.36a1.6 1.6 0 1 0 3.2 0a1.6 1.6 0 1 0 -3.2 0M296.90 440.53a1.6 1.6 0 1 0 3.2 0a1.6 1.6 0 1 0 -3.2 0M301.81 438.67a1.6 1.6 0 1 0 3.2 0a1.6 1.6 0 1 0 -3.2 0M306.71 436.79a1.6 1.6 0 1 0 3.2 0a1.6 1.6 0 1 0 -3.2 0M311.60 434.88a1.6 1.6 0 1 0 3.2 0a1.6 1.6 0 1 0 -3.2 0M316.49 432.95a1.6 1.6 0 1 0 3.2 0a1.6 1.6 0 1 0 -3.2 0M321.36 431.00a1.6 1.6 0 1 0 3.2 0a1.6 1.6 0 1 0 -3.2 0M326.23 429.04a1.6 1.6 0 1 0 3.2 0a1.6 1.6 0 1 0 -3.2 0M331.09 427.05a1.6 1.6 0 1 0 3.2 0a1.6 1.6 0 1 0 -3.2 0M335.95 425.06a1.6 1.6 0 1 0 3.2 0a1.6 1.6 0 1 0 -3.2 0M340.79 423.04a1.6 1.6 0 1 0 3.2 0a1.6 1.6 0 1 0 -3.2 0M345.64 421.02a1.6 1.6 0 1 0 3.2 0a1.6 1.6 0 1 0 -3.2 0M350.48 418.99a1.6 1.6 0 1 0 3.2 0a1.6 1.6 0 1 0 -3.2 0M355.32 416.95a1.6 1.6 0 1 0 3.2 0a1.6 1.6 0 1 0 -3.2 0M360.15 414.89a1.6 1.6 0 1 0 3.2 0a1.6 1.6 0 1 0 -3.2 0M364.98 412.83a1.6 1.6 0 1 0 3.2 0a1.6 1.6 0 1 0 -3.2 0M369.80 410.77a1.6 1.6 0 1 0 3.2 0a1.6 1.6 0 1 0 -3.2 0M374.63 408.69a1.6 1.6 0 1 0 3.2 0a1.6 1.6 0 1 0 -3.2 0M379.45 406.61a1.6 1.6 0 1 0 3.2 0a1.6 1.6 0 1 0 -3.2 0M384.26 404.52a1.6 1.6 0 1 0 3.2 0a1.6 1.6 0 1 0 -3.2 0M389.08 402.43a1.6 1.6 0 1 0 3.2 0a1.6 1.6 0 1 0 -3.2 0M393.89 400.33a1.6 1.6 0 1 0 3.2 0a1.6 1.6 0 1 0 -3.2 0M398.70 398.23a1.6 1.6 0 1 0 3.2 0a1.6 1.6 0 1 0 -3.2 0M403.51 396.13a1.6 1.6 0 1 0 3.2 0a1.6 1.6 0 1 0 -3.2 0M408.32 394.02a1.6 1.6 0 1 0 3.2 0a1.6 1.6 0 1 0 -3.2 0M413.13 391.91a1.6 1.6 0 1 0 3.2 0a1.6 1.6 0 1 0 -3.2 0M417.93 389.80a1.6 1.6 0 1 0 3.2 0a1.6 1.6 0 1 0 -3.2 0" fill="none" stroke="#0000ff" stroke-width="0.35" stroke-opacity="0.4"/>
<path d="M82.45 481.17a1.6 1.6 0 1 0 3.2 0a1.6 1.6 0 1 0 -3.2 0M87.70 481.17a1.6 1.6 0 1 0 3.2 0a1.6 1.6 0 1 0 -3.2 0M92.95 481.10a1.6 1.6 0 1 0 3.2 0a1.6 1.6 0 1 0 -3.2 0M98.20 480.98a1.6 1.6 0 1 0 3.2 0a1.6 1.6 0 1 0 -3.2 0M103.45 480.81a1.6 1.6 0 1 0 3.2 0a1.6 1.6 0 1 0 -3.2 0M108.69 480.57a1.6 1.6 0 1 0 3.2 0a1.6 1.6 0 1 0 -3.2 0M113.93 480.29a1.6 1.6 0 1 0 3.2 0a1.6 1.6 0 1 0 -3.2 0M119.17 479.95a1.6 1.6 0 1 0 3.2 0a1.6 1.6 0 1 0 -3.2 0M124.41 479.55a1.6 1.6 0 1 0 3.2 0a1.6 1.6 0 1 0 -3.2 0M129.64 479.11a1.6 1.6 0 1 0 3.2 0a1.6 1.6 0 1 0 -3.2 0M134.86 478.62a1.6 1.6 0 1 0 3.2 0a1.6 1.6 0 1 0 -3.2 0M140.09 478.08a1.6 1.6 0 1 0 3.2 0a1.6 1.6 0 1 0 -3.2 0M145.30 477.50a1.6 1.6 0 1 0 3.2 0a1.6 1.6 0 1 0 -3.2 0M150.52 476.87a1.6 1.6 0 1 0 3.2 0a1.6 1.6 0 1 0 -3.2 0M155.72 476.20a1.6 1.6 0 1 0 3.2 0a1.6 1.6 0 1 0 -3.2 0M160.92 475.48a1.6 1.6 0 1 0 3.2 0a1.6 1.6 0 1 0 -3.2 0M166.12 474.72a1.6 1.6 0 1 0 3.2 0a1.6 1.6 0 1 0 -3.2 0M171.31 473.93a1.6 1.6 0 1 0 3.2 0a1.6 1.6 0 1 0 -3.2 0M176.49 473.09a1.6 1.6 0 1 0 3.2 0a1.6 1.6 0 1 0 -3.2 0M181.67 472.22a1.6 1.6 0 1 0 3.2 0a1.6 1.6 0 1 0 -3.2 0M186.84 471.30a1.6 1.6 0 1 0 3.2 0a1.6 1.6 0 1 0 -3.2 0M192.00 470.34a1.6 1.6 0 1 0 3.2 0a1.6 1.6 0 1 0 -3.2 0M197.15 469.34a1.6 1.6 0 1 0 3.2 0a1.6 1.6 0 1 0 -3.2 0M202.30 468.30a1.6 1.6 0 1 0 3.2 0a1.6 1.6 0 1 0 -3.2 0M207.43 467.21a1.6 1.6 0 1 0 3.2 0a1.6 1.6 0 1 0 -3.2 0M212.56 466.08a1.6 1.6 0 1 0 3.2 0a1.6 1.6 0 1 0 -3.2 0M217.68 464.91a1.6 1.6 0 1 0 3.2 0a1.6 1.6 0 1 0 -3.2 0M222.79 463.69a1.6 1.6 0 1 0 3.2 0a1.6 1.6 0 1 0 -3.2 0M227.88 462.43a1.6 1.6 0 1 0 3.2 0a1.6 1.6 0 1 0 -3.2 0M232.97 461.12a1.6 1.6 0 1 0 3.2 0a1.6 1.6 0 1 0 -3.2 0M238.04 459.76a1.6 1.6 0 1 0 3.2 0a1.6 1.6 0 1 0 -3.2 0M243.10 458.36a1.6 1.6 0 1 0 3.2 0a1.6 1.6 0 1 0 -3.2 0M248.15 456.92a1.6 1.6 0 1 0 3.2 0a1.6 1.6 0 1 0 -3.2 0M253.18 455.43a1.6 1.6 0 1 0 3.2 0a1.6 1.6 0 1 0 -3.2 0M258.20 453.89a1.6 1.6 0 1 0 3.2 0a1.6 1.6 0 1 0 -3.2 0M263.20 452.31a1.6 1.6 0 1 0 3.2 0a1.6 1.6 0 1 0 -3.2 0M268.20 450.68a1.6 1.6 0 1 0 3.2 0a1.6 1.6 0 1 0 -3.2 0M273.17 449.02a1.6 1.6 0 1 0 3.2 0a1.6 1.6 0 1 0 -3.2 0M278.14 447.31a1.6 1.6 0 1 0 3.2 0a1.6 1.6 0 1 0 -3.2 0M283.09 445.57a1.6 1.6 0 1 0 3.2 0a1.6 1.6 0 1 0 -3.2 0M288.03 443.80a1.6 1.6 0 1 0 3.2 0a1.6 1.6 0 1 0 -3.2 0M292.96 441.99a1.6 1.6 0 1 0 3.2 0a1.6 1.6 0 1 0 -3.2 0M297.88 440.16a1.6 1.6 0 1 0 3.2 0a1.6 1.6 0 1 0 -3.2 0M302.79 438.30a1.6 1.6 0 1 0 3.2 0a1.6 1.6 0 1 0 -3.2 0M307.69 436.41a1.6 1.6 0 1 0 3.2 0a1.6 1.6 0 1 0 -3.2 0M312.58 434.50a1.6 1.6 0 1 0 3.2 0a1.6 1.6 0 1 0 -3.2 0M317.46 432.56a1.6 1.6 0 1 0 3.2 0a1.6 1.6 0 1 0 -3.2 0M322.34 430.61a1.6 1.6 0 1 0 3.2 0a1.6 1.6 0 1 0 -3.2 0M327.20 428.64a1.6 1.6 0 1 0 3.2 0a1.6 1.6 0 1 0 -3.2 0M332.06 426.65a1.6 1.6 0 1 0 3.2 0a1.6 1.6 0 1 0 -3.2 0M336.92 424.65a1.6 1.6 0 1 0 3.2 0a1.6 1.6 0 1 0 -3.2 0M341.76 422.64a1.6 1.6 0 1 0 3.2 0a1.6 1.6 0 1 0 -3.2 0M346.61 420.62a1.6 1.6 0 1 0 3.2 0a1.6 1.6 0 1 0 -3.2 0M351.45 418.58a1.6 1.6 0 1 0 3.2 0a1.6 1.6 0 1 0 -3.2 0M356.28 416.54a1.6 1.6 0 1 0 3.2 0a1.6 1.6 0 1 0 -3.2 0M361.11 414.48a1.6 1.6 0 1 0 3.2 0a1.6 1.6 0 1 0 -3.2 0M365.94 412.42a1.6 1.6 0 1 0 3.2 0a1.6 1.6 0 1 0 -3.2 0M370.77 410.35a1.6 1.6 0 1 0 3.2 0a1.6 1.6 0 1 0 -3.2 0M375.59 408.28a1.6 1.6 0 1 0 3.2 0a1.6 1.6 0 1 0 -3.2 0M380.41 406.19a1.6 1.6 0 1 0 3.2 0a1.6 1.6 0 1 0 -3.2 0M385.23 404.10a1.6 1.6 0 1 0 3.2 0a1.6 1.6 0 1 0 -3.2 0M390.04 402.01a1.6 1.6 0 1 0 3.2 0a1.6 1.6 0 1 0 -3.2 0M394.85 399.91a1.6 1.6 0 1 0 3.2 0a1.6 1.6 0 1 0 -3.2 0M399.66 397.81a1.6 1.6 0 1 0 3.2 0a1.6 1.6 0 1 0 -3.2 0M404.47 395.70a1.6 1.6 0 1 0 3.2 0a1.6 1.6 0 1 0 -3.2 0M409.28 393.60a1.6 1.6 0 1 0 3.2 0a1.6 1.6 0 1 0 -3.2 0M414.09 391.49a1.6 1.6 0 1 0 3.2 0a1.6 1.6 0 1 0 -3.2 0M418.89 389.37a1.6 1.6 0 1 0 3.2 0a1.6 1.6 0 1 0 -3.2 0" fill="none" stroke="#0000ff" stroke-width="0.35" stroke-opacity="0.4"/>
<path d="M83.50 481.17a1.6 1.6 0 1 0 3.2 0a1.6 1.6 0 1 0 -3.2 0M88.75 481.16a1.6 1.6 0 1 0 3.2 0a1.6 1.6 0 1 0 -3.2 0M94.00 481.08a1.6 1.6 0 1 0 3.2 0a1.6 1.6 0 1 0 -3.2 0M99.25 480.95a1.6 1.6 0 1 0 3.2 0a1.6 1.6 0 1 0 -3.2 0M104.49 480.76a1.6 1.6 0 1 0 3.2 0a1.6 1.6 0 1 0 -3.2 0M109.74 480.52a1.6 1.6 0 1 0 3.2 0a1.6 1.6 0 1 0 -3.2 0M114.98 480.22a1.6 1.6 0 1 0 3.2 0a1.6 1.6 0 1 0 -3.2 0M120.22 479.87a1.6 1.6 0 1 0 3.2 0a1.6 1.6 0 1 0 -3.2 0M125.45 479.47a1.6 1.6 0 1 0 3.2 0a1.6 1.6 0 1 0 -3.2 0M130.68 479.02a1.6 1.6 0 1 0 3.2 0a1.6 1.6 0 1 0 -3.2 0M135.91 478.52a1.6 1.6 0 1 0 3.2 0a1.6 1.6 0 1 0 -3.2 0M141.13 477.97a1.6 1.6 0 1 0 3.2 0a1.6 1.6 0 1 0 -3.2 0M146.35 477.38a1.6 1.6 0 1 0 3.2 0a1.6 1.6 0 1 0 -3.2 0M151.56 476.74a1.6 1.6 0 1 0 3.2 0a1.6 1.6 0 1 0 -3.2 0M156.76 476.06a1.6 1.6 0 1 0 3.2 0a1.6 1.6 0 1 0 -3.2 0M161.96 475.33a1.6 1.6 0 1 0 3.2 0a1.6 1.6 0 1 0 -3.2 0M167.16 474.57a1.6 1.6 0 1 0 3.2 0a1.6 1.6 0 1 0 -3.2 0M172.35 473.76a1.6 1.6 0 1 0 3.2 0a1.6 1.6 0 1 0 -3.2 0M177.53 472.92a1.6 1.6 0 1 0 3.2 0a1.6 1.6 0 1 0 -3.2 0M182.70 472.03a1.6 1.6 0 1 0 3.2 0a1.6 1.6 0 1 0 -3.2 0M187.87 471.11a1.6 1.6 0 1 0 3.2 0a1.6 1.6 0 1 0 -3.2 0M193.03 470.14a1.6 1.6 0 1 0 3.2 0a1.6 1.6 0 1 0 -3.2 0M198.18 469.13a1.6 1.6 0 1 0 3.2 0a1.6 1.6 0 1 0 -3.2 0M203.33 468.08a1.6 1.6 0 1 0 3.2 0a1.6 1.6 0 1 0 -3.2 0M208.46 466.99a1.6 1.6 0 1 0 3.2 0a1.6 1.6 0 1 0 -3.2 0M213.59 465.85a1.6 1.6 0 1 0 3.2 0a1.6 1.6 0 1 0 -3.2 0M218.70 464.67a1.6 1.6 0 1 0 3.2 0a1.6 1.6 0 1 0 -3.2 0M223.81 463.44a1.6 1.6 0 1 0 3.2 0a1.6 1.6 0 1 0 -3.2 0M228.90 462.17a1.6 1.6 0 1 0 3.2 0a1.6 1.6 0 1 0 -3.2 0M233.98 460.85a1.6 1.6 0 1 0 3.2 0a1.6 1.6 0 1 0 -3.2 0M239.05 459.49a1.6 1.6 0 1 0 3.2 0a1.6 1.6 0 1 0 -3.2 0M244.11 458.08a1.6 1.6 0 1 0 3.2 0a1.6 1.6 0 1 0 -3.2 0M249.15 456.63a1.6 1.6 0 1 0 3.2 0a1.6 1.6 0 1 0 -3.2 0M254.18 455.12a1.6 1.6 0 1 0 3.2 0a1.6 1.6 0 1 0 -3.2 0M259.20 453.58a1.6 1.6 0 1 0 3.2 0a1.6 1.6 0 1 0 -3.2 0M264.20 451.99a1.6 1.6 0 1 0 3.2 0a1.6 1.6 0 1 0 -3.2 0M269.19 450.35a1.6 1.6 0 1 0 3.2 0a1.6 1.6 0 1 0 -3.2 0M274.17 448.68a1.6 1.6 0 1 0 3.2 0a1.6 1.6 0 1 0 -3.2 0M279.13 446.97a1.6 1.6 0 1 0 3.2 0a1.6 1.6 0 1 0 -3.2 0M284.08 445.22a1.6 1.6 0 1 0 3.2 0a1.6 1.6 0 1 0 -3.2 0M289.02 443.44a1.6 1.6 0 1 0 3.2 0a1.6 1.6 0 1 0 -3.2 0M293.95 441.63a1.6 1.6 0 1 0 3.2 0a1.6 1.6 0 1 0 -3.2 0M298.87 439.79a1.6 1.6 0 1 0 3.2 0a1.6 1.6 0 1 0 -3.2 0M303.77 437.92a1.6 1.6 0 1 0 3.2 0a1.6 1.6 0 1 0 -3.2 0M308.67 436.03a1.6 1.6 0 1 0 3.2 0a1.6 1.6 0 1 0 -3.2 0M313.56 434.11a1.6 1.6 0 1 0 3.2 0a1.6 1.6 0 1 0 -3.2 0M318.44 432.18a1.6 1.6 0 1 0 3.2 0a1.6 1.6 0 1 0 -3.2 0M323.31 430.22a1.6 1.6 0 1 0 3.2 0a1.6 1.6 0 1 0 -3.2 0M328.17 428.25a1.6 1.6 0 1 0 3.2 0a1.6 1.6 0 1 0 -3.2 0M333.03 426.26a1.6 1.6 0 1 0 3.2 0a1.6 1.6 0 1 0 -3.2 0M337.89 424.25a1.6 1.6 0 1 0 3.2 0a1.6 1.6 0 1 0 -3.2 0M342.73 422.24a1.6 1.6 0 1 0 3.2 0a1.6 1.6 0 1 0 -3.2 0M347.58 420.21a1.6 1.6 0 1 0 3.2 0a1.6 1.6 0 1 0 -3.2 0M352.41 418.17a1.6 1.6 0 1 0 3.2 0a1.6 1.6 0 1 0 -3.2 0M357.25 416.13a1.6 1.6 0 1 0 3.2 0a1.6 1.6 0 1 0 -3.2 0M362.08 414.07a1.6 1.6 0 1 0 3.2 0a1.6 1.6 0 1 0 -3.2 0M366.91 412.01a1.6 1.6 0 1 0 3.2 0a1.6 1.6 0 1 0 -3.2 0M371.73 409.94a1.6 1.6 0 1 0 3.2 0a1.6 1.6 0 1 0 -3.2 0M376.55 407.86a1.6 1.6 0 1 0 3.2 0a1.6 1.6 0 1 0 -3.2 0M381.37 405.78a1.6 1.6 0 1 0 3.2 0a1.6 1.6 0 1 0 -3.2 0M386.19 403.69a1.6 1.6 0 1 0 3.2 0a1.6 1.6 0 1 0 -3.2 0M391.00 401.59a1.6 1.6 0 1 0 3.2 0a1.6 1.6 0 1 0 -3.2 0M395.82 399.49a1.6 1.6 0 1 0 3.2 0a1.6 1.6 0 1 0 -3.2 0M400.63 397.39a1.6 1.6 0 1 0 3.2 0a1.6 1.6 0 1 0 -3.2 0M405.43 395.28a1.6 1.6 0 1 0 3.2 0a1.6 1.6 0 1 0 -3.2 0M410.24 393.17a1.6 1.6 0 1 0 3.2 0a1.6 1.6 0 1 0 -3.2 0M415.05 391.06a1.6 1.6 0 1 0 3.2 0a1.6 1.6 0 1 0 -3.2 0M419.86 388.95a1.6 1.6 0 1 0 3.2 0a1.6 1.6 0 1 0 -3.2 0" fill="none" stroke="#0000ff" stroke-width="0.35" stroke-opacity="0.4"/>
<path d="M84.55 481.18a1.6 1.6 0 1 0 3.2 0a1.6 1.6 0 1 0 -3.2 0M89.80 481.15a1.6 1.6 0 1 0 3.2 0a1.6 1.6 0 1 0 -3.2 0M95.05 481.06a1.6 1.6 0 1 0 3.2 0a1.6 1.6 0 1 0 -3.2 0M100.30 480.92a1.6 1.6 0 1 0 3.2 0a1.6 1.6 0 1 0 -3.2 0M105.54 480.72a1.6 1.6 0 1 0 3.2 0a1.6 1.6 0 1 0 -3.2 0M110.79 480.46a1.6 1.6 0 1 0 3.2 0a1.6 1.6 0 1 0 -3.2 0M116.03 480.16a1.6 1.6 0 1 0 3.2 0a1.6 1.6 0 1 0 -3.2 0M121.27 479.80a1.6 1.6 0 1 0 3.2 0a1.6 1.6 0 1 0 -3.2 0M126.50 479.38a1.6 1.6 0 1 0 3.2 0a1.6 1.6 0 1 0 -3.2 0M131.73 478.92a1.6 1.6 0 1 0 3.2 0a1.6 1.6 0 1 0 -3.2 0M136.95 478.41a1.6 1.6 0 1 0 3.2 0a1.6 1.6 0 1 0 -3.2 0M142.17 477.86a1.6 1.6 0 1 0 3.2 0a1.6 1.6 0 1 0 -3.2 0M147.39 477.25a1.6 1.6 0 1 0 3.2 0a1.6 1.6 0 1 0 -3.2 0M152.60 476.61a1.6 1.6 0 1 0 3.2 0a1.6 1.6 0 1 0 -3.2 0M157.80 475.92a1.6 1.6 0 1 0 3.2 0a1.6 1.6 0 1 0 -3.2 0M163.00 475.18a1.6 1.6 0 1 0 3.2 0a1.6 1.6 0 1 0 -3.2 0M168.20 474.41a1.6 1.6 0 1 0 3.2 0a1.6 1.6 0 1 0 -3.2 0M173.38 473.60a1.6 1.6 0 1 0 3.2 0a1.6 1.6 0 1 0 -3.2 0M178.56 472.75a1.6 1.6 0 1 0 3.2 0a1.6 1.6 0 1 0 -3.2 0M183.74 471.85a1.6 1.6 0 1 0 3.2 0a1.6 1.6 0 1 0 -3.2 0M188.90 470.92a1.6 1.6 0 1 0 3.2 0a1.6 1.6 0 1 0 -3.2 0M194.06 469.94a1.6 1.6 0 1 0 3.2 0a1.6 1.6 0 1 0 -3.2 0M199.21 468.93a1.6 1.6 0 1 0 3.2 0a1.6 1.6 0 1 0 -3.2 0M204.35 467.87a1.6 1.6 0 1 0 3.2 0a1.6 1.6 0 1 0 -3.2 0M209.49 466.76a1.6 1.6 0 1 0 3.2 0a1.6 1.6 0 1 0 -3.2 0M214.61 465.62a1.6 1.6 0 1 0 3.2 0a1.6 1.6 0 1 0 -3.2 0M219.72 464.42a1.6 1.6 0 1 0 3.2 0a1.6 1.6 0 1 0 -3.2 0M224.82 463.19a1.6 1.6 0 1 0 3.2 0a1.6 1.6 0 1 0 -3.2 0M229.92 461.91a1.6 1.6 0 1 0 3.2 0a1.6 1.6 0 1 0 -3.2 0M235.00 460.58a1.6 1.6 0 1 0 3.2 0a1.6 1.6 0 1 0 -3.2 0M240.06 459.21a1.6 1.6 0 1 0 3.2 0a1.6 1.6 0 1 0 -3.2 0M245.12 457.79a1.6 1.6 0 1 0 3.2 0a1.6 1.6 0 1 0 -3.2 0M250.16 456.33a1.6 1.6 0 1 0 3.2 0a1.6 1.6 0 1 0 -3.2 0M255.19 454.82a1.6 1.6 0 1 0 3.2 0a1.6 1.6 0 1 0 -3.2 0M260.20 453.26a1.6 1.6 0 1 0 3.2 0a1.6 1.6 0 1 0 -3.2 0M265.20 451.66a1.6 1.6 0 1 0 3.2 0a1.6 1.6 0 1 0 -3.2 0M270.19 450.02a1.6 1.6 0 1 0 3.2 0a1.6 1.6 0 1 0 -3.2 0M275.16 448.34a1.6 1.6 0 1 0 3.2 0a1.6 1.6 0 1 0 -3.2 0M280.12 446.62a1.6 1.6 0 1 0 3.2 0a1.6 1.6 0 1 0 -3.2 0M285.07 444.87a1.6 1.6 0 1 0 3.2 0a1.6 1.6 0 1 0 -3.2 0M290.01 443.08a1.6 1.6 0 1 0 3.2 0a1.6 1.6 0 1 0 -3.2 0M294.93 441.26a1.6 1.6 0 1 0 3.2 0a1.6 1.6 0 1 0 -3.2 0M299.85 439.42a1.6 1.6 0 1 0 3.2 0a1.6 1.6 0 1 0 -3.2 0M304.75 437.54a1.6 1.6 0 1 0 3.2 0a1.6 1.6 0 1 0 -3.2 0M309.65 435.65a1.6 1.6 0 1 0 3.2 0a1.6 1.6 0 1 0 -3.2 0M314.53 433.73a1.6 1.6 0 1 0 3.2 0a1.6 1.6 0 1 0 -3.2 0M319.41 431.79a1.6 1.6 0 1 0 3.2 0a1.6 1.6 0 1 0 -3.2 0M324.28 429.83a1.6 1.6 0 1 0 3.2 0a1.6 1.6 0 1 0 -3.2 0M329.15 427.85a1.6 1.6 0 1 0 3.2 0a1.6 1.6 0 1 0 -3.2 0M334.00 425.86a1.6 1.6 0 1 0 3.2 0a1.6 1.6 0 1 0 -3.2 0M338.86 423.85a1.6 1.6 0 1 0 3.2 0a1.6 1.6 0 1 0 -3.2 0M343.70 421.83a1.6 1.6 0 1 0 3.2 0a1.6 1.6 0 1 0 -3.2 0M348.54 419.80a1.6 1.6 0 1 0 3.2 0a1.6 1.6 0 1 0 -3.2 0M353.38 417.76a1.6 1.6 0 1 0 3.2 0a1.6 1.6 0 1 0 -3.2 0M358.22 415.72a1.6 1.6 0 1 0 3.2 0a1.6 1.6 0 1 0 -3.2 0M363.05 413.66a1.6 1.6 0 1 0 3.2 0a1.6 1.6 0 1 0 -3.2 0M367.87 411.59a1.6 1.6 0 1 0 3.2 0a1.6 1.6 0 1 0 -3.2 0M372.70 409.52a1.6 1.6 0 1 0 3.2 0a1.6 1.6 0 1 0 -3.2 0M377.52 407.44a1.6 1.6 0 1 0 3.2 0a1.6 1.6 0 1 0 -3.2 0M382.34 405.36a1.6 1.6 0 1 0 3.2 0a1.6 1.6 0 1 0 -3.2 0M387.15 403.27a1.6 1.6 0 1 0 3.2 0a1.6 1.6 0 1 0 -3.2 0M391.97 401.17a1.6 1.6 0 1 0 3.2 0a1.6 1.6 0 1 0 -3.2 0M396.78 399.07a1.6 1.6 0 1 0 3.2 0a1.6 1.6 0 1 0 -3.2 0M401.59 396.97a1.6 1.6 0 1 0 3.2 0a1.6 1.6 0 1 0 -3.2 0M406.40 394.86a1.6 1.6 0 1 0 3.2 0a1.6 1.6 0 1 0 -3.2 0M411.20 392.75a1.6 1.6 0 1 0 3.2 0a1.6 1.6 0 1 0 -3.2 0M416.01 390.64a1.6 1.6 0 1 0 3.2 0a1.6 1.6 0 1 0 -3.2 0" fill="none" stroke="#0000ff" stroke-width="0.35" stroke-opacity="0.4"/>
<path d="M85.60 481.17a1.6 1.6 0 1 0 3.2 0a1.6 1.6 0 1 0 -3.2 0M90.85 481.14a1.6 1.6 0 1 0 3.2 0a1.6 1.6 0 1 0 -3.2 0M96.10 481.04a1.6 1.6 0 1 0 3.2 0a1.6 1.6 0 1 0 -3.2 0M101.35 480.88a1.6 1.6 0 1 0 3.2 0a1.6 1.6 0 1 0 -3.2 0M106.59 480.67a1.6 1.6 0 1 0 3.2 0a1.6 1.6 0 1 0 -3.2 0M111.84 480.41a1.6 1.6 0 1 0 3.2 0a1.6 1.6 0 1 0 -3.2 0M117.08 480.09a1.6 1.6 0 1 0 3.2 0a1.6 1.6 0 1 0 -3.2 0M122.31 479.72a1.6 1.6 0 1 0 3.2 0a1.6 1.6 0 1 0 -3.2 0M127.55 479.30a1.6 1.6 0 1 0 3.2 0a1.6 1.6 0 1 0 -3.2 0M132.77 478.82a1.6 1.6 0 1 0 3.2 0a1.6 1.6 0 1 0 -3.2 0M138.00 478.31a1.6 1.6 0 1 0 3.2 0a1.6 1.6 0 1 0 -3.2 0M143.22 477.74a1.6 1.6 0 1 0 3.2 0a1.6 1.6 0 1 0 -3.2 0M148.43 477.13a1.6 1.6 0 1 0 3.2 0a1.6 1.6 0 1 0 -3.2 0M153.64 476.47a1.6 1.6 0 1 0 3.2 0a1.6 1.6 0 1 0 -3.2 0M158.84 475.77a1.6 1.6 0 1 0 3.2 0a1.6 1.6 0 1 0 -3.2 0M164.04 475.03a1.6 1.6 0 1 0 3.2 0a1.6 1.6 0 1 0 -3.2 0M169.23 474.25a1.6 1.6 0 1 0 3.2 0a1.6 1.6 0 1 0 -3.2 0M174.42 473.43a1.6 1.6 0 1 0 3.2 0a1.6 1.6 0 1 0 -3.2 0M179.60 472.57a1.6 1.6 0 1 0 3.2 0a1.6 1.6 0 1 0 -3.2 0M184.77 471.67a1.6 1.6 0 1 0 3.2 0a1.6 1.6 0 1 0 -3.2 0M189.94 470.73a1.6 1.6 0 1 0 3.2 0a1.6 1.6 0 1 0 -3.2 0M195.09 469.74a1.6 1.6 0 1 0 3.2 0a1.6 1.6 0 1 0 -3.2 0M200.24 468.72a1.6 1.6 0 1 0 3.2 0a1.6 1.6 0 1 0 -3.2 0M205.38 467.65a1.6 1.6 0 1 0 3.2 0a1.6 1.6 0 1 0 -3.2 0M210.51 466.54a1.6 1.6 0 1 0 3.2 0a1.6 1.6 0 1 0 -3.2 0M215.63 465.38a1.6 1.6 0 1 0 3.2 0a1.6 1.6 0 1 0 -3.2 0M220.74 464.18a1.6 1.6 0 1 0 3.2 0a1.6 1.6 0 1 0 -3.2 0M225.84 462.94a1.6 1.6 0 1 0 3.2 0a1.6 1.6 0 1 0 -3.2 0M230.93 461.65a1.6 1.6 0 1 0 3.2 0a1.6 1.6 0 1 0 -3.2 0M236.01 460.31a1.6 1.6 0 1 0 3.2 0a1.6 1.6 0 1 0 -3.2 0M241.08 458.93a1.6 1.6 0 1 0 3.2 0a1.6 1.6 0 1 0 -3.2 0M246.13 457.50a1.6 1.6 0 1 0 3.2 0a1.6 1.6 0 1 0 -3.2 0M251.17 456.03a1.6 1.6 0 1 0 3.2 0a1.6 1.6 0 1 0 -3.2 0M256.19 454.51a1.6 1.6 0 1 0 3.2 0a1.6 1.6 0 1 0 -3.2 0M261.20 452.95a1.6 1.6 0 1 0 3.2 0a1.6 1.6 0 1 0 -3.2 0M266.20 451.34a1.6 1.6 0 1 0 3.2 0a1.6 1.6 0 1 0 -3.2 0M271.18 449.69a1.6 1.6 0 1 0 3.2 0a1.6 1.6 0 1 0 -3.2 0M276.16 448.00a1.6 1.6 0 1 0 3.2 0a1.6 1.6 0 1 0 -3.2 0M281.11 446.27a1.6 1.6 0 1 0 3.2 0a1.6 1.6 0 1 0 -3.2 0M286.06 444.51a1.6 1.6 0 1 0 3.2 0a1.6 1.6 0 1 0 -3.2 0M290.99 442.72a1.6 1.6 0 1 0 3.2 0a1.6 1.6 0 1 0 -3.2 0M295.92 440.89a1.6 1.6 0 1 0 3.2 0a1.6 1.6 0 1 0 -3.2 0M300.83 439.04a1.6 1.6 0 1 0 3.2 0a1.6 1.6 0 1 0 -3.2 0M305.73 437.17a1.6 1.6 0 1 0 3.2 0a1.6 1.6 0 1 0 -3.2 0M310.63 435.26a1.6 1.6 0 1 0 3.2 0a1.6 1.6 0 1 0 -3.2 0M315.51 433.34a1.6 1.6 0 1 0 3.2 0a1.6 1.6 0 1 0 -3.2 0M320.39 431.39a1.6 1.6 0 1 0 3.2 0a1.6 1.6 0 1 0 -3.2 0M325.26 429.43a1.6 1.6 0 1 0 3.2 0a1.6 1.6 0 1 0 -3.2 0M330.12 427.45a1.6 1.6 0 1 0 3.2 0a1.6 1.6 0 1 0 -3.2 0M334.97 425.46a1.6 1.6 0 1 0 3.2 0a1.6 1.6 0 1 0 -3.2 0M339.83 423.45a1.6 1.6 0 1 0 3.2 0a1.6 1.6 0 1 0 -3.2 0M344.67 421.43a1.6 1.6 0 1 0 3.2 0a1.6 1.6 0 1 0 -3.2 0M349.51 419.40a1.6 1.6 0 1 0 3.2 0a1.6 1.6 0 1 0 -3.2 0M354.35 417.36a1.6 1.6 0 1 0 3.2 0a1.6 1.6 0 1 0 -3.2 0M359.18 415.31a1.6 1.6 0 1 0 3.2 0a1.6 1.6 0 1 0 -3.2 0M364.01 413.25a1.6 1.6 0 1 0 3.2 0a1.6 1.6 0 1 0 -3.2 0M368.84 411.18a1.6 1.6 0 1 0 3.2 0a1.6 1.6 0 1 0 -3.2 0M373.66 409.11a1.6 1.6 0 1 0 3.2 0a1.6 1.6 0 1 0 -3.2 0M378.48 407.03a1.6 1.6 0 1 0 3.2 0a1.6 1.6 0 1 0 -3.2 0M383.30 404.94a1.6 1.6 0 1 0 3.2 0a1.6 1.6 0 1 0 -3.2 0M388.12 402.85a1.6 1.6 0 1 0 3.2 0a1.6 1.6 0 1 0 -3.2 0M392.93 400.75a1.6 1.6 0 1 0 3.2 0a1.6 1.6 0 1 0 -3.2 0M397.74 398.65a1.6 1.6 0 1 0 3.2 0a1.6 1.6 0 1 0 -3.2 0M402.55 396.55a1.6 1.6 0 1 0 3.2 0a1.6 1.6 0 1 0 -3.2 0M407.36 394.44a1.6 1.6 0 1 0 3.2 0a1.6 1.6 0 1 0 -3.2 0M412.17 392.33a1.6 1.6 0 1 0 3.2 0a1.6 1.6 0 1 0 -3.2 0M416.97 390.22a1.6 1.6 0 1 0 3.2 0a1.6 1.6 0 1 0 -3.2 0" fill="none" stroke="#0000ff" stroke-width="0.35" stroke-opacity="0.4"/>
<circle cx="150.8" cy="468.87" r="1.15" fill="#fff" fill-opacity="0.92"/>
<circle cx="227.3" cy="395.31" r="1.15" fill="#fff" fill-opacity="0.92"/>
<circle cx="239.0" cy="377.59" r="1.15" fill="#fff" fill-opacity="0.92"/>
<circle cx="252.9" cy="356.98" r="1.15" fill="#fff" fill-opacity="0.92"/>
<circle cx="274.7" cy="328.93" r="1.15" fill="#fff" fill-opacity="0.92"/>
<circle cx="290.2" cy="312.56" r="1.15" fill="#fff" fill-opacity="0.92"/>
<circle cx="296.5" cy="306.43" r="1.15" fill="#fff" fill-opacity="0.92"/>
<circle cx="327.3" cy="281.72" r="1.15" fill="#fff" fill-opacity="0.92"/>
<path d="M121.05 477.77L122.55 481.97" stroke="#fff" stroke-width="0.9" stroke-opacity="0.8"/>
<path d="M148.55 475.12L150.05 479.32" stroke="#fff" stroke-width="0.9" stroke-opacity="0.8"/>
<path d="M237.95 457.92L239.45 462.12" stroke="#fff" stroke-width="0.9" stroke-opacity="0.8"/>
<path d="M248.05 455.09L249.55 459.29" stroke="#fff" stroke-width="0.9" stroke-opacity="0.8"/>
<path d="M257.25 452.35L258.75 456.55" stroke="#fff" stroke-width="0.9" stroke-opacity="0.8"/>
<path d="M332.25 424.83L333.75 429.03" stroke="#fff" stroke-width="0.9" stroke-opacity="0.8"/>
<path d="M354.65 415.49L356.15 419.69" stroke="#fff" stroke-width="0.9" stroke-opacity="0.8"/>
<g font-family="Liberation Sans, sans-serif" font-size="16" fill="#000">
<text x="76.4" y="487.1" text-anchor="end">0</text>
<text x="76.4" y="294.3" text-anchor="end">2</text>
<text x="76.4" y="198.3" text-anchor="end">3</text>
<path transform="translate(67.50 390.30) scale(0.007812 -0.007812)" fill="#000" d="M763 0H583V1147Q518 1085 412.5 1023T223 930V1104Q374 1175 487 1276T647 1472H763Z"/>
<text x="82.50" y="500.7" text-anchor="middle">0</text>
<text x="212.25" y="500.7" text-anchor="middle">5</text>
<path transform="translate(333.60 500.70) scale(0.007812 -0.007812)" fill="#000" d="M763 0H583V1147Q518 1085 412.5 1023T223 930V1104Q374 1175 487 1276T647 1472H763Z"/>
<text x="342.50" y="500.7">0</text>
</g>
<text font-family="Liberation Sans, sans-serif" font-size="30.8" x="260.6" y="521.1" fill="#000">B (T)</text>
<g font-family="Liberation Sans, sans-serif" fill="#000" transform="translate(51.2 0) rotate(-90)">
<text font-size="26.4" x="-408.6" y="0">Δ</text>
<g transform="translate(-391.1 0) scale(1 1.045)">
<text font-size="30" x="0" y="0">L / L (</text>
<path transform="translate(76.71 0.00) scale(0.014648 -0.014648)" fill="#000" d="M763 0H583V1147Q518 1085 412.5 1023T223 930V1104Q374 1175 487 1276T647 1472H763Z"/>
<text font-size="30" x="93.39" y="0">0</text>
<text font-size="17.8" x="108.87" y="-15.6">-3</text>
<text font-size="30" x="125.89" y="0">)</text>
</g></g>
<g font-family="Liberation Sans, sans-serif" font-size="17.45">
<text x="151.6" y="416.9" fill="#ff0000">x=0.23</text>
<text x="227.2" y="439.9" fill="#0000ff">x=0.40</text>
<text x="303.5" y="460.1" fill="#000">x=0.</text>
<path transform="translate(336.97 460.10) scale(0.008521 -0.008521)" fill="#000" d="M763 0H583V1147Q518 1085 412.5 1023T223 930V1104Q374 1175 487 1276T647 1472H763Z"/>
<text x="346.67" y="460.1" fill="#000">5</text>
<text x="409.7" y="209.5" fill="#ff0000">23 K</text>
</g>
<path d="M412.50 227.10L361.48 248.87" stroke="#ff0000" stroke-width="1.0" fill="none"/>
<path d="M353.20 252.40L360.61 246.84L362.34 250.89z" fill="#ff0000"/>
<path d="M425.00 378.00L369.06 401.06" stroke="#0000ff" stroke-width="1.15" fill="none"/>
<path d="M361.20 404.30L368.26 399.12L369.86 403.00z" fill="#0000ff"/>
<path d="M425.00 446.20L381.40 452.59" stroke="#000" stroke-width="1.0" fill="none"/>
<path d="M372.50 453.90L381.11 450.62L381.69 454.57z" fill="#000"/>
</svg>
</body></html>
